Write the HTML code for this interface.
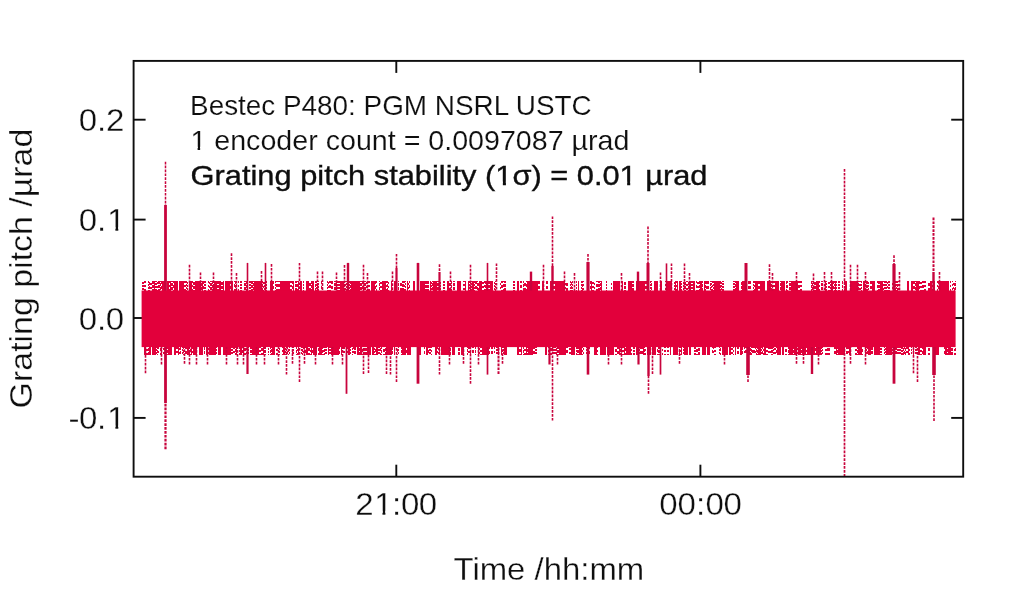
<!DOCTYPE html>
<html lang="en">
<head>
<meta charset="utf-8">
<title>Grating pitch stability</title>
<style>
html,body{margin:0;padding:0;background:#fff;}
body{width:1024px;height:589px;overflow:hidden;position:relative;}
svg{position:absolute;left:0;top:0;display:block;}
text{font-family:"Liberation Sans",sans-serif;fill:#0e0e0e;}
.tk{font-size:31.2px;stroke:#fff;stroke-width:0.3px;}
.ttl{font-size:31.6px;stroke:#fff;stroke-width:0.3px;}
.an{font-size:27.2px;stroke:#fff;stroke-width:0.15px;}
.anb{font-size:27.2px;stroke:#0e0e0e;stroke-width:0.35px;}
</style>
</head>
<body>
<svg width="1024" height="589" viewBox="0 0 1024 589">
<rect x="0" y="0" width="1024" height="589" fill="#ffffff"/>
<g stroke="#0e0e0e" stroke-width="1.9" fill="none">
<line x1="133.6" y1="119.7" x2="145.6" y2="119.7"/>
<line x1="951.2" y1="119.7" x2="963.2" y2="119.7"/>
<line x1="133.6" y1="219.6" x2="145.6" y2="219.6"/>
<line x1="951.2" y1="219.6" x2="963.2" y2="219.6"/>
<line x1="133.6" y1="318.0" x2="145.6" y2="318.0"/>
<line x1="951.2" y1="318.0" x2="963.2" y2="318.0"/>
<line x1="133.6" y1="417.9" x2="145.6" y2="417.9"/>
<line x1="951.2" y1="417.9" x2="963.2" y2="417.9"/>
<line x1="396.3" y1="60.9" x2="396.3" y2="72.9"/>
<line x1="396.3" y1="464.7" x2="396.3" y2="476.7"/>
<line x1="700.4" y1="60.9" x2="700.4" y2="72.9"/>
<line x1="700.4" y1="464.7" x2="700.4" y2="476.7"/>
</g>
<g stroke="#e2003b" fill="none">
<g shape-rendering="crispEdges">
<line x1="154.5" y1="281.0" x2="154.5" y2="291.0" stroke-width="1.0"/>
<line x1="163.5" y1="281.0" x2="163.5" y2="291.0" stroke-width="3.0"/>
<line x1="168.0" y1="281.0" x2="168.0" y2="291.0" stroke-width="2.0"/>
<line x1="170.5" y1="281.0" x2="170.5" y2="291.0" stroke-width="1.0"/>
<line x1="175.0" y1="281.0" x2="175.0" y2="291.0" stroke-width="2.0"/>
<line x1="177.0" y1="281.0" x2="177.0" y2="291.0" stroke-width="2.0"/>
<line x1="181.0" y1="281.0" x2="181.0" y2="291.0" stroke-width="4.0"/>
<line x1="183.5" y1="281.0" x2="183.5" y2="291.0" stroke-width="1.0"/>
<line x1="190.5" y1="281.0" x2="190.5" y2="291.0" stroke-width="3.0"/>
<line x1="195.5" y1="281.0" x2="195.5" y2="291.0" stroke-width="1.0"/>
<line x1="197.0" y1="281.0" x2="197.0" y2="291.0" stroke-width="2.0"/>
<line x1="199.5" y1="281.0" x2="199.5" y2="291.0" stroke-width="3.0"/>
<line x1="202.5" y1="281.0" x2="202.5" y2="291.0" stroke-width="1.0"/>
<line x1="215.5" y1="281.0" x2="215.5" y2="291.0" stroke-width="3.0"/>
<line x1="220.0" y1="281.0" x2="220.0" y2="291.0" stroke-width="2.0"/>
<line x1="223.5" y1="281.0" x2="223.5" y2="291.0" stroke-width="1.0"/>
<line x1="226.0" y1="281.0" x2="226.0" y2="291.0" stroke-width="2.0"/>
<line x1="227.5" y1="281.0" x2="227.5" y2="291.0" stroke-width="1.0"/>
<line x1="229.0" y1="281.0" x2="229.0" y2="291.0" stroke-width="2.0"/>
<line x1="232.0" y1="281.0" x2="232.0" y2="291.0" stroke-width="2.0"/>
<line x1="256.0" y1="281.0" x2="256.0" y2="291.0" stroke-width="4.0"/>
<line x1="259.5" y1="281.0" x2="259.5" y2="291.0" stroke-width="3.0"/>
<line x1="271.0" y1="281.0" x2="271.0" y2="291.0" stroke-width="2.0"/>
<line x1="272.5" y1="281.0" x2="272.5" y2="291.0" stroke-width="1.0"/>
<line x1="280.5" y1="281.0" x2="280.5" y2="291.0" stroke-width="1.0"/>
<line x1="282.5" y1="281.0" x2="282.5" y2="291.0" stroke-width="3.0"/>
<line x1="286.0" y1="281.0" x2="286.0" y2="291.0" stroke-width="4.0"/>
<line x1="289.0" y1="281.0" x2="289.0" y2="291.0" stroke-width="2.0"/>
<line x1="293.5" y1="281.0" x2="293.5" y2="291.0" stroke-width="1.0"/>
<line x1="298.5" y1="281.0" x2="298.5" y2="291.0" stroke-width="1.0"/>
<line x1="301.0" y1="281.0" x2="301.0" y2="291.0" stroke-width="2.0"/>
<line x1="307.0" y1="281.0" x2="307.0" y2="291.0" stroke-width="2.0"/>
<line x1="308.5" y1="281.0" x2="308.5" y2="291.0" stroke-width="1.0"/>
<line x1="313.0" y1="281.0" x2="313.0" y2="291.0" stroke-width="2.0"/>
<line x1="340.5" y1="281.0" x2="340.5" y2="291.0" stroke-width="1.0"/>
<line x1="342.5" y1="281.0" x2="342.5" y2="291.0" stroke-width="3.0"/>
<line x1="351.5" y1="281.0" x2="351.5" y2="291.0" stroke-width="1.0"/>
<line x1="354.0" y1="281.0" x2="354.0" y2="291.0" stroke-width="4.0"/>
<line x1="358.0" y1="281.0" x2="358.0" y2="291.0" stroke-width="4.0"/>
<line x1="373.0" y1="281.0" x2="373.0" y2="291.0" stroke-width="4.0"/>
<line x1="384.0" y1="281.0" x2="384.0" y2="291.0" stroke-width="4.0"/>
<line x1="391.5" y1="281.0" x2="391.5" y2="291.0" stroke-width="1.0"/>
<line x1="394.5" y1="281.0" x2="394.5" y2="291.0" stroke-width="1.0"/>
<line x1="395.5" y1="281.0" x2="395.5" y2="291.0" stroke-width="1.0"/>
<line x1="407.5" y1="281.0" x2="407.5" y2="291.0" stroke-width="1.0"/>
<line x1="414.0" y1="281.0" x2="414.0" y2="291.0" stroke-width="2.0"/>
<line x1="422.0" y1="281.0" x2="422.0" y2="291.0" stroke-width="4.0"/>
<line x1="424.5" y1="281.0" x2="424.5" y2="291.0" stroke-width="1.0"/>
<line x1="430.5" y1="281.0" x2="430.5" y2="291.0" stroke-width="1.0"/>
<line x1="434.0" y1="281.0" x2="434.0" y2="291.0" stroke-width="2.0"/>
<line x1="436.0" y1="281.0" x2="436.0" y2="291.0" stroke-width="2.0"/>
<line x1="448.0" y1="281.0" x2="448.0" y2="291.0" stroke-width="2.0"/>
<line x1="459.0" y1="281.0" x2="459.0" y2="291.0" stroke-width="4.0"/>
<line x1="465.5" y1="281.0" x2="465.5" y2="291.0" stroke-width="1.0"/>
<line x1="468.5" y1="281.0" x2="468.5" y2="291.0" stroke-width="1.0"/>
<line x1="473.0" y1="281.0" x2="473.0" y2="291.0" stroke-width="2.0"/>
<line x1="480.5" y1="281.0" x2="480.5" y2="291.0" stroke-width="3.0"/>
<line x1="487.0" y1="281.0" x2="487.0" y2="291.0" stroke-width="2.0"/>
<line x1="491.0" y1="281.0" x2="491.0" y2="291.0" stroke-width="2.0"/>
<line x1="492.5" y1="281.0" x2="492.5" y2="291.0" stroke-width="1.0"/>
<line x1="517.5" y1="281.0" x2="517.5" y2="291.0" stroke-width="1.0"/>
<line x1="518.5" y1="281.0" x2="518.5" y2="291.0" stroke-width="1.0"/>
<line x1="529.0" y1="281.0" x2="529.0" y2="291.0" stroke-width="4.0"/>
<line x1="533.0" y1="281.0" x2="533.0" y2="291.0" stroke-width="2.0"/>
<line x1="536.0" y1="281.0" x2="536.0" y2="291.0" stroke-width="4.0"/>
<line x1="543.0" y1="281.0" x2="543.0" y2="291.0" stroke-width="2.0"/>
<line x1="551.5" y1="281.0" x2="551.5" y2="291.0" stroke-width="3.0"/>
<line x1="557.0" y1="281.0" x2="557.0" y2="291.0" stroke-width="4.0"/>
<line x1="560.0" y1="281.0" x2="560.0" y2="291.0" stroke-width="2.0"/>
<line x1="563.0" y1="281.0" x2="563.0" y2="291.0" stroke-width="4.0"/>
<line x1="578.5" y1="281.0" x2="578.5" y2="291.0" stroke-width="1.0"/>
<line x1="588.0" y1="281.0" x2="588.0" y2="291.0" stroke-width="2.0"/>
<line x1="591.5" y1="281.0" x2="591.5" y2="291.0" stroke-width="1.0"/>
<line x1="601.5" y1="281.0" x2="601.5" y2="291.0" stroke-width="1.0"/>
<line x1="614.5" y1="281.0" x2="614.5" y2="291.0" stroke-width="3.0"/>
<line x1="618.0" y1="281.0" x2="618.0" y2="291.0" stroke-width="4.0"/>
<line x1="622.5" y1="281.0" x2="622.5" y2="291.0" stroke-width="1.0"/>
<line x1="630.0" y1="281.0" x2="630.0" y2="291.0" stroke-width="4.0"/>
<line x1="638.0" y1="281.0" x2="638.0" y2="291.0" stroke-width="4.0"/>
<line x1="641.0" y1="281.0" x2="641.0" y2="291.0" stroke-width="2.0"/>
<line x1="643.5" y1="281.0" x2="643.5" y2="291.0" stroke-width="3.0"/>
<line x1="655.5" y1="281.0" x2="655.5" y2="291.0" stroke-width="3.0"/>
<line x1="657.5" y1="281.0" x2="657.5" y2="291.0" stroke-width="1.0"/>
<line x1="661.0" y1="281.0" x2="661.0" y2="291.0" stroke-width="2.0"/>
<line x1="668.0" y1="281.0" x2="668.0" y2="291.0" stroke-width="4.0"/>
<line x1="671.0" y1="281.0" x2="671.0" y2="291.0" stroke-width="2.0"/>
<line x1="675.5" y1="281.0" x2="675.5" y2="291.0" stroke-width="1.0"/>
<line x1="677.5" y1="281.0" x2="677.5" y2="291.0" stroke-width="1.0"/>
<line x1="679.5" y1="281.0" x2="679.5" y2="291.0" stroke-width="1.0"/>
<line x1="680.5" y1="281.0" x2="680.5" y2="291.0" stroke-width="1.0"/>
<line x1="690.5" y1="281.0" x2="690.5" y2="291.0" stroke-width="1.0"/>
<line x1="694.0" y1="281.0" x2="694.0" y2="291.0" stroke-width="2.0"/>
<line x1="701.0" y1="281.0" x2="701.0" y2="291.0" stroke-width="2.0"/>
<line x1="704.5" y1="281.0" x2="704.5" y2="291.0" stroke-width="1.0"/>
<line x1="715.0" y1="281.0" x2="715.0" y2="291.0" stroke-width="2.0"/>
<line x1="717.5" y1="281.0" x2="717.5" y2="291.0" stroke-width="3.0"/>
<line x1="719.5" y1="281.0" x2="719.5" y2="291.0" stroke-width="1.0"/>
<line x1="737.5" y1="281.0" x2="737.5" y2="291.0" stroke-width="3.0"/>
<line x1="743.0" y1="281.0" x2="743.0" y2="291.0" stroke-width="2.0"/>
<line x1="745.0" y1="281.0" x2="745.0" y2="291.0" stroke-width="2.0"/>
<line x1="756.5" y1="281.0" x2="756.5" y2="291.0" stroke-width="3.0"/>
<line x1="761.0" y1="281.0" x2="761.0" y2="291.0" stroke-width="2.0"/>
<line x1="762.5" y1="281.0" x2="762.5" y2="291.0" stroke-width="1.0"/>
<line x1="764.0" y1="281.0" x2="764.0" y2="291.0" stroke-width="2.0"/>
<line x1="769.0" y1="281.0" x2="769.0" y2="291.0" stroke-width="4.0"/>
<line x1="777.0" y1="281.0" x2="777.0" y2="291.0" stroke-width="4.0"/>
<line x1="783.0" y1="281.0" x2="783.0" y2="291.0" stroke-width="4.0"/>
<line x1="792.0" y1="281.0" x2="792.0" y2="291.0" stroke-width="2.0"/>
<line x1="795.0" y1="281.0" x2="795.0" y2="291.0" stroke-width="4.0"/>
<line x1="797.5" y1="281.0" x2="797.5" y2="291.0" stroke-width="1.0"/>
<line x1="816.5" y1="281.0" x2="816.5" y2="291.0" stroke-width="1.0"/>
<line x1="818.0" y1="281.0" x2="818.0" y2="291.0" stroke-width="2.0"/>
<line x1="825.5" y1="281.0" x2="825.5" y2="291.0" stroke-width="1.0"/>
<line x1="832.0" y1="281.0" x2="832.0" y2="291.0" stroke-width="2.0"/>
<line x1="835.5" y1="281.0" x2="835.5" y2="291.0" stroke-width="1.0"/>
<line x1="846.0" y1="281.0" x2="846.0" y2="291.0" stroke-width="2.0"/>
<line x1="851.5" y1="281.0" x2="851.5" y2="291.0" stroke-width="3.0"/>
<line x1="854.0" y1="281.0" x2="854.0" y2="291.0" stroke-width="2.0"/>
<line x1="856.0" y1="281.0" x2="856.0" y2="291.0" stroke-width="2.0"/>
<line x1="864.0" y1="281.0" x2="864.0" y2="291.0" stroke-width="2.0"/>
<line x1="873.5" y1="281.0" x2="873.5" y2="291.0" stroke-width="3.0"/>
<line x1="881.5" y1="281.0" x2="881.5" y2="291.0" stroke-width="3.0"/>
<line x1="908.0" y1="281.0" x2="908.0" y2="291.0" stroke-width="2.0"/>
<line x1="912.0" y1="281.0" x2="912.0" y2="291.0" stroke-width="2.0"/>
<line x1="917.5" y1="281.0" x2="917.5" y2="291.0" stroke-width="3.0"/>
<line x1="931.0" y1="281.0" x2="931.0" y2="291.0" stroke-width="2.0"/>
<line x1="934.5" y1="281.0" x2="934.5" y2="291.0" stroke-width="1.0"/>
<line x1="941.0" y1="281.0" x2="941.0" y2="291.0" stroke-width="4.0"/>
<line x1="944.0" y1="281.0" x2="944.0" y2="291.0" stroke-width="2.0"/>
<line x1="946.0" y1="281.0" x2="946.0" y2="291.0" stroke-width="2.0"/>
<line x1="948.0" y1="281.0" x2="948.0" y2="291.0" stroke-width="2.0"/>
<line x1="145.0" y1="346.0" x2="145.0" y2="355.4" stroke-width="2.0"/>
<line x1="150.0" y1="346.0" x2="150.0" y2="355.4" stroke-width="2.0"/>
<line x1="154.0" y1="346.0" x2="154.0" y2="355.4" stroke-width="4.0"/>
<line x1="165.5" y1="346.0" x2="165.5" y2="355.4" stroke-width="1.0"/>
<line x1="169.0" y1="346.0" x2="169.0" y2="355.4" stroke-width="2.0"/>
<line x1="171.0" y1="346.0" x2="171.0" y2="355.4" stroke-width="2.0"/>
<line x1="175.0" y1="346.0" x2="175.0" y2="355.4" stroke-width="2.0"/>
<line x1="178.5" y1="346.0" x2="178.5" y2="355.4" stroke-width="1.0"/>
<line x1="188.0" y1="346.0" x2="188.0" y2="355.4" stroke-width="2.0"/>
<line x1="191.5" y1="346.0" x2="191.5" y2="355.4" stroke-width="1.0"/>
<line x1="194.0" y1="346.0" x2="194.0" y2="355.4" stroke-width="2.0"/>
<line x1="195.5" y1="346.0" x2="195.5" y2="355.4" stroke-width="1.0"/>
<line x1="201.0" y1="346.0" x2="201.0" y2="355.4" stroke-width="4.0"/>
<line x1="206.5" y1="346.0" x2="206.5" y2="355.4" stroke-width="1.0"/>
<line x1="211.0" y1="346.0" x2="211.0" y2="355.4" stroke-width="4.0"/>
<line x1="214.5" y1="346.0" x2="214.5" y2="355.4" stroke-width="3.0"/>
<line x1="219.0" y1="346.0" x2="219.0" y2="355.4" stroke-width="2.0"/>
<line x1="220.5" y1="346.0" x2="220.5" y2="355.4" stroke-width="1.0"/>
<line x1="225.0" y1="346.0" x2="225.0" y2="355.4" stroke-width="4.0"/>
<line x1="229.0" y1="346.0" x2="229.0" y2="355.4" stroke-width="4.0"/>
<line x1="236.5" y1="346.0" x2="236.5" y2="355.4" stroke-width="1.0"/>
<line x1="241.0" y1="346.0" x2="241.0" y2="355.4" stroke-width="2.0"/>
<line x1="243.5" y1="346.0" x2="243.5" y2="355.4" stroke-width="1.0"/>
<line x1="252.5" y1="346.0" x2="252.5" y2="355.4" stroke-width="1.0"/>
<line x1="254.5" y1="346.0" x2="254.5" y2="355.4" stroke-width="3.0"/>
<line x1="258.0" y1="346.0" x2="258.0" y2="355.4" stroke-width="2.0"/>
<line x1="263.5" y1="346.0" x2="263.5" y2="355.4" stroke-width="1.0"/>
<line x1="272.5" y1="346.0" x2="272.5" y2="355.4" stroke-width="1.0"/>
<line x1="274.0" y1="346.0" x2="274.0" y2="355.4" stroke-width="2.0"/>
<line x1="284.0" y1="346.0" x2="284.0" y2="355.4" stroke-width="2.0"/>
<line x1="298.5" y1="346.0" x2="298.5" y2="355.4" stroke-width="1.0"/>
<line x1="307.0" y1="346.0" x2="307.0" y2="355.4" stroke-width="2.0"/>
<line x1="311.5" y1="346.0" x2="311.5" y2="355.4" stroke-width="1.0"/>
<line x1="314.5" y1="346.0" x2="314.5" y2="355.4" stroke-width="3.0"/>
<line x1="316.5" y1="346.0" x2="316.5" y2="355.4" stroke-width="1.0"/>
<line x1="320.5" y1="346.0" x2="320.5" y2="355.4" stroke-width="3.0"/>
<line x1="328.5" y1="346.0" x2="328.5" y2="355.4" stroke-width="1.0"/>
<line x1="332.0" y1="346.0" x2="332.0" y2="355.4" stroke-width="2.0"/>
<line x1="334.0" y1="346.0" x2="334.0" y2="355.4" stroke-width="2.0"/>
<line x1="337.0" y1="346.0" x2="337.0" y2="355.4" stroke-width="4.0"/>
<line x1="341.5" y1="346.0" x2="341.5" y2="355.4" stroke-width="1.0"/>
<line x1="349.0" y1="346.0" x2="349.0" y2="355.4" stroke-width="2.0"/>
<line x1="358.0" y1="346.0" x2="358.0" y2="355.4" stroke-width="2.0"/>
<line x1="361.0" y1="346.0" x2="361.0" y2="355.4" stroke-width="2.0"/>
<line x1="369.0" y1="346.0" x2="369.0" y2="355.4" stroke-width="4.0"/>
<line x1="373.0" y1="346.0" x2="373.0" y2="355.4" stroke-width="2.0"/>
<line x1="377.0" y1="346.0" x2="377.0" y2="355.4" stroke-width="2.0"/>
<line x1="386.5" y1="346.0" x2="386.5" y2="355.4" stroke-width="1.0"/>
<line x1="388.5" y1="346.0" x2="388.5" y2="355.4" stroke-width="3.0"/>
<line x1="391.0" y1="346.0" x2="391.0" y2="355.4" stroke-width="2.0"/>
<line x1="394.5" y1="346.0" x2="394.5" y2="355.4" stroke-width="1.0"/>
<line x1="402.5" y1="346.0" x2="402.5" y2="355.4" stroke-width="1.0"/>
<line x1="404.0" y1="346.0" x2="404.0" y2="355.4" stroke-width="2.0"/>
<line x1="405.5" y1="346.0" x2="405.5" y2="355.4" stroke-width="1.0"/>
<line x1="409.0" y1="346.0" x2="409.0" y2="355.4" stroke-width="4.0"/>
<line x1="420.0" y1="346.0" x2="420.0" y2="355.4" stroke-width="2.0"/>
<line x1="427.0" y1="346.0" x2="427.0" y2="355.4" stroke-width="2.0"/>
<line x1="435.5" y1="346.0" x2="435.5" y2="355.4" stroke-width="1.0"/>
<line x1="436.5" y1="346.0" x2="436.5" y2="355.4" stroke-width="1.0"/>
<line x1="439.5" y1="346.0" x2="439.5" y2="355.4" stroke-width="1.0"/>
<line x1="441.5" y1="346.0" x2="441.5" y2="355.4" stroke-width="1.0"/>
<line x1="443.0" y1="346.0" x2="443.0" y2="355.4" stroke-width="2.0"/>
<line x1="445.5" y1="346.0" x2="445.5" y2="355.4" stroke-width="3.0"/>
<line x1="448.0" y1="346.0" x2="448.0" y2="355.4" stroke-width="2.0"/>
<line x1="452.5" y1="346.0" x2="452.5" y2="355.4" stroke-width="1.0"/>
<line x1="453.5" y1="346.0" x2="453.5" y2="355.4" stroke-width="1.0"/>
<line x1="454.5" y1="346.0" x2="454.5" y2="355.4" stroke-width="1.0"/>
<line x1="462.5" y1="346.0" x2="462.5" y2="355.4" stroke-width="3.0"/>
<line x1="484.0" y1="346.0" x2="484.0" y2="355.4" stroke-width="4.0"/>
<line x1="486.5" y1="346.0" x2="486.5" y2="355.4" stroke-width="1.0"/>
<line x1="488.5" y1="346.0" x2="488.5" y2="355.4" stroke-width="1.0"/>
<line x1="498.5" y1="346.0" x2="498.5" y2="355.4" stroke-width="1.0"/>
<line x1="501.5" y1="346.0" x2="501.5" y2="355.4" stroke-width="1.0"/>
<line x1="505.5" y1="346.0" x2="505.5" y2="355.4" stroke-width="3.0"/>
<line x1="518.0" y1="346.0" x2="518.0" y2="355.4" stroke-width="2.0"/>
<line x1="521.5" y1="346.0" x2="521.5" y2="355.4" stroke-width="1.0"/>
<line x1="526.5" y1="346.0" x2="526.5" y2="355.4" stroke-width="1.0"/>
<line x1="529.5" y1="346.0" x2="529.5" y2="355.4" stroke-width="3.0"/>
<line x1="532.0" y1="346.0" x2="532.0" y2="355.4" stroke-width="2.0"/>
<line x1="546.0" y1="346.0" x2="546.0" y2="355.4" stroke-width="2.0"/>
<line x1="560.5" y1="346.0" x2="560.5" y2="355.4" stroke-width="3.0"/>
<line x1="563.0" y1="346.0" x2="563.0" y2="355.4" stroke-width="2.0"/>
<line x1="565.0" y1="346.0" x2="565.0" y2="355.4" stroke-width="2.0"/>
<line x1="573.0" y1="346.0" x2="573.0" y2="355.4" stroke-width="4.0"/>
<line x1="580.5" y1="346.0" x2="580.5" y2="355.4" stroke-width="3.0"/>
<line x1="595.5" y1="346.0" x2="595.5" y2="355.4" stroke-width="3.0"/>
<line x1="601.0" y1="346.0" x2="601.0" y2="355.4" stroke-width="2.0"/>
<line x1="604.0" y1="346.0" x2="604.0" y2="355.4" stroke-width="4.0"/>
<line x1="609.0" y1="346.0" x2="609.0" y2="355.4" stroke-width="4.0"/>
<line x1="612.5" y1="346.0" x2="612.5" y2="355.4" stroke-width="3.0"/>
<line x1="619.5" y1="346.0" x2="619.5" y2="355.4" stroke-width="1.0"/>
<line x1="624.5" y1="346.0" x2="624.5" y2="355.4" stroke-width="1.0"/>
<line x1="626.5" y1="346.0" x2="626.5" y2="355.4" stroke-width="1.0"/>
<line x1="628.0" y1="346.0" x2="628.0" y2="355.4" stroke-width="2.0"/>
<line x1="630.0" y1="346.0" x2="630.0" y2="355.4" stroke-width="2.0"/>
<line x1="637.5" y1="346.0" x2="637.5" y2="355.4" stroke-width="3.0"/>
<line x1="643.5" y1="346.0" x2="643.5" y2="355.4" stroke-width="1.0"/>
<line x1="649.0" y1="346.0" x2="649.0" y2="355.4" stroke-width="4.0"/>
<line x1="654.0" y1="346.0" x2="654.0" y2="355.4" stroke-width="4.0"/>
<line x1="660.5" y1="346.0" x2="660.5" y2="355.4" stroke-width="1.0"/>
<line x1="670.5" y1="346.0" x2="670.5" y2="355.4" stroke-width="1.0"/>
<line x1="674.0" y1="346.0" x2="674.0" y2="355.4" stroke-width="2.0"/>
<line x1="676.5" y1="346.0" x2="676.5" y2="355.4" stroke-width="3.0"/>
<line x1="681.5" y1="346.0" x2="681.5" y2="355.4" stroke-width="1.0"/>
<line x1="686.0" y1="346.0" x2="686.0" y2="355.4" stroke-width="4.0"/>
<line x1="690.0" y1="346.0" x2="690.0" y2="355.4" stroke-width="2.0"/>
<line x1="704.0" y1="346.0" x2="704.0" y2="355.4" stroke-width="4.0"/>
<line x1="708.5" y1="346.0" x2="708.5" y2="355.4" stroke-width="3.0"/>
<line x1="724.0" y1="346.0" x2="724.0" y2="355.4" stroke-width="4.0"/>
<line x1="727.0" y1="346.0" x2="727.0" y2="355.4" stroke-width="2.0"/>
<line x1="730.0" y1="346.0" x2="730.0" y2="355.4" stroke-width="2.0"/>
<line x1="735.5" y1="346.0" x2="735.5" y2="355.4" stroke-width="1.0"/>
<line x1="741.0" y1="346.0" x2="741.0" y2="355.4" stroke-width="2.0"/>
<line x1="747.5" y1="346.0" x2="747.5" y2="355.4" stroke-width="1.0"/>
<line x1="749.0" y1="346.0" x2="749.0" y2="355.4" stroke-width="2.0"/>
<line x1="759.5" y1="346.0" x2="759.5" y2="355.4" stroke-width="3.0"/>
<line x1="765.0" y1="346.0" x2="765.0" y2="355.4" stroke-width="2.0"/>
<line x1="779.0" y1="346.0" x2="779.0" y2="355.4" stroke-width="4.0"/>
<line x1="783.0" y1="346.0" x2="783.0" y2="355.4" stroke-width="2.0"/>
<line x1="791.0" y1="346.0" x2="791.0" y2="355.4" stroke-width="4.0"/>
<line x1="795.0" y1="346.0" x2="795.0" y2="355.4" stroke-width="2.0"/>
<line x1="798.5" y1="346.0" x2="798.5" y2="355.4" stroke-width="1.0"/>
<line x1="800.0" y1="346.0" x2="800.0" y2="355.4" stroke-width="2.0"/>
<line x1="804.0" y1="346.0" x2="804.0" y2="355.4" stroke-width="4.0"/>
<line x1="809.0" y1="346.0" x2="809.0" y2="355.4" stroke-width="4.0"/>
<line x1="813.0" y1="346.0" x2="813.0" y2="355.4" stroke-width="4.0"/>
<line x1="816.5" y1="346.0" x2="816.5" y2="355.4" stroke-width="1.0"/>
<line x1="819.0" y1="346.0" x2="819.0" y2="355.4" stroke-width="4.0"/>
<line x1="836.5" y1="346.0" x2="836.5" y2="355.4" stroke-width="1.0"/>
<line x1="840.0" y1="346.0" x2="840.0" y2="355.4" stroke-width="4.0"/>
<line x1="843.5" y1="346.0" x2="843.5" y2="355.4" stroke-width="3.0"/>
<line x1="849.5" y1="346.0" x2="849.5" y2="355.4" stroke-width="1.0"/>
<line x1="850.5" y1="346.0" x2="850.5" y2="355.4" stroke-width="1.0"/>
<line x1="858.5" y1="346.0" x2="858.5" y2="355.4" stroke-width="1.0"/>
<line x1="860.5" y1="346.0" x2="860.5" y2="355.4" stroke-width="3.0"/>
<line x1="869.5" y1="346.0" x2="869.5" y2="355.4" stroke-width="3.0"/>
<line x1="874.5" y1="346.0" x2="874.5" y2="355.4" stroke-width="1.0"/>
<line x1="877.0" y1="346.0" x2="877.0" y2="355.4" stroke-width="4.0"/>
<line x1="879.5" y1="346.0" x2="879.5" y2="355.4" stroke-width="1.0"/>
<line x1="888.0" y1="346.0" x2="888.0" y2="355.4" stroke-width="4.0"/>
<line x1="891.0" y1="346.0" x2="891.0" y2="355.4" stroke-width="2.0"/>
<line x1="908.5" y1="346.0" x2="908.5" y2="355.4" stroke-width="1.0"/>
<line x1="913.5" y1="346.0" x2="913.5" y2="355.4" stroke-width="1.0"/>
<line x1="919.0" y1="346.0" x2="919.0" y2="355.4" stroke-width="2.0"/>
<line x1="923.5" y1="346.0" x2="923.5" y2="355.4" stroke-width="1.0"/>
<line x1="925.0" y1="346.0" x2="925.0" y2="355.4" stroke-width="2.0"/>
<line x1="937.0" y1="346.0" x2="937.0" y2="355.4" stroke-width="4.0"/>
<line x1="946.0" y1="346.0" x2="946.0" y2="355.4" stroke-width="2.0"/>
<line x1="949.5" y1="346.0" x2="949.5" y2="355.4" stroke-width="3.0"/>
<line x1="143.0" y1="281.0" x2="143.0" y2="291.0" stroke-width="2.0" stroke-dasharray="2 1" stroke-dashoffset="2.0"/>
<line x1="145.0" y1="281.0" x2="145.0" y2="291.0" stroke-width="2.0" stroke-dasharray="2 2" stroke-dashoffset="0.0"/>
<line x1="148.5" y1="281.0" x2="148.5" y2="291.0" stroke-width="1.0" stroke-dasharray="2 1" stroke-dashoffset="0.0"/>
<line x1="149.5" y1="281.0" x2="149.5" y2="291.0" stroke-width="1.0" stroke-dasharray="3 1" stroke-dashoffset="3.0"/>
<line x1="151.0" y1="281.0" x2="151.0" y2="291.0" stroke-width="2.0" stroke-dasharray="2 2" stroke-dashoffset="2.0"/>
<line x1="153.0" y1="281.0" x2="153.0" y2="291.0" stroke-width="2.0" stroke-dasharray="3 1" stroke-dashoffset="0.0"/>
<line x1="156.0" y1="281.0" x2="156.0" y2="291.0" stroke-width="2.0" stroke-dasharray="2 1" stroke-dashoffset="1.0"/>
<line x1="157.5" y1="281.0" x2="157.5" y2="291.0" stroke-width="1.0" stroke-dasharray="2 2" stroke-dashoffset="3.0"/>
<line x1="159.0" y1="281.0" x2="159.0" y2="291.0" stroke-width="2.0" stroke-dasharray="3 1" stroke-dashoffset="0.0"/>
<line x1="160.5" y1="281.0" x2="160.5" y2="291.0" stroke-width="1.0" stroke-dasharray="3 1" stroke-dashoffset="2.0"/>
<line x1="161.5" y1="281.0" x2="161.5" y2="291.0" stroke-width="1.0" stroke-dasharray="3 2" stroke-dashoffset="0.0"/>
<line x1="169.5" y1="281.0" x2="169.5" y2="291.0" stroke-width="1.0" stroke-dasharray="2 2" stroke-dashoffset="0.0"/>
<line x1="172.0" y1="281.0" x2="172.0" y2="291.0" stroke-width="2.0" stroke-dasharray="3 1" stroke-dashoffset="2.0"/>
<line x1="173.5" y1="281.0" x2="173.5" y2="291.0" stroke-width="1.0" stroke-dasharray="3 2" stroke-dashoffset="1.0"/>
<line x1="185.0" y1="281.0" x2="185.0" y2="291.0" stroke-width="2.0" stroke-dasharray="2 2" stroke-dashoffset="0.0"/>
<line x1="186.5" y1="281.0" x2="186.5" y2="291.0" stroke-width="1.0" stroke-dasharray="2 1" stroke-dashoffset="0.0"/>
<line x1="187.5" y1="281.0" x2="187.5" y2="291.0" stroke-width="1.0" stroke-dasharray="2 1" stroke-dashoffset="2.0"/>
<line x1="192.5" y1="281.0" x2="192.5" y2="291.0" stroke-width="1.0" stroke-dasharray="2 2" stroke-dashoffset="0.0"/>
<line x1="194.0" y1="281.0" x2="194.0" y2="291.0" stroke-width="2.0" stroke-dasharray="3 1" stroke-dashoffset="3.0"/>
<line x1="201.5" y1="281.0" x2="201.5" y2="291.0" stroke-width="1.0" stroke-dasharray="3 1" stroke-dashoffset="2.0"/>
<line x1="203.5" y1="281.0" x2="203.5" y2="291.0" stroke-width="1.0" stroke-dasharray="3 2" stroke-dashoffset="0.0"/>
<line x1="205.0" y1="281.0" x2="205.0" y2="291.0" stroke-width="2.0" stroke-dasharray="2 1" stroke-dashoffset="0.0"/>
<line x1="208.5" y1="281.0" x2="208.5" y2="291.0" stroke-width="1.0" stroke-dasharray="2 2" stroke-dashoffset="0.0"/>
<line x1="209.5" y1="281.0" x2="209.5" y2="291.0" stroke-width="1.0" stroke-dasharray="2 2" stroke-dashoffset="3.0"/>
<line x1="211.0" y1="281.0" x2="211.0" y2="291.0" stroke-width="2.0" stroke-dasharray="3 1" stroke-dashoffset="2.0"/>
<line x1="212.5" y1="281.0" x2="212.5" y2="291.0" stroke-width="1.0" stroke-dasharray="3 1" stroke-dashoffset="0.0"/>
<line x1="213.5" y1="281.0" x2="213.5" y2="291.0" stroke-width="1.0" stroke-dasharray="2 1" stroke-dashoffset="0.0"/>
<line x1="218.0" y1="281.0" x2="218.0" y2="291.0" stroke-width="2.0" stroke-dasharray="3 1" stroke-dashoffset="0.0"/>
<line x1="222.0" y1="281.0" x2="222.0" y2="291.0" stroke-width="2.0" stroke-dasharray="3 1" stroke-dashoffset="3.0"/>
<line x1="230.5" y1="281.0" x2="230.5" y2="291.0" stroke-width="1.0" stroke-dasharray="3 2" stroke-dashoffset="0.0"/>
<line x1="234.5" y1="281.0" x2="234.5" y2="291.0" stroke-width="1.0" stroke-dasharray="3 2" stroke-dashoffset="2.0"/>
<line x1="235.5" y1="281.0" x2="235.5" y2="291.0" stroke-width="1.0" stroke-dasharray="3 1" stroke-dashoffset="0.0"/>
<line x1="236.5" y1="281.0" x2="236.5" y2="291.0" stroke-width="1.0" stroke-dasharray="2 2" stroke-dashoffset="1.0"/>
<line x1="238.5" y1="281.0" x2="238.5" y2="291.0" stroke-width="1.0" stroke-dasharray="2 2" stroke-dashoffset="0.0"/>
<line x1="241.0" y1="281.0" x2="241.0" y2="291.0" stroke-width="2.0" stroke-dasharray="2 1" stroke-dashoffset="0.0"/>
<line x1="245.0" y1="281.0" x2="245.0" y2="291.0" stroke-width="2.0" stroke-dasharray="3 1" stroke-dashoffset="2.0"/>
<line x1="246.5" y1="281.0" x2="246.5" y2="291.0" stroke-width="1.0" stroke-dasharray="3 1" stroke-dashoffset="0.0"/>
<line x1="250.0" y1="281.0" x2="250.0" y2="291.0" stroke-width="2.0" stroke-dasharray="2 1" stroke-dashoffset="3.0"/>
<line x1="252.0" y1="281.0" x2="252.0" y2="291.0" stroke-width="2.0" stroke-dasharray="3 1" stroke-dashoffset="0.0"/>
<line x1="253.5" y1="281.0" x2="253.5" y2="291.0" stroke-width="1.0" stroke-dasharray="3 1" stroke-dashoffset="2.0"/>
<line x1="262.0" y1="281.0" x2="262.0" y2="291.0" stroke-width="2.0" stroke-dasharray="3 1" stroke-dashoffset="1.0"/>
<line x1="263.5" y1="281.0" x2="263.5" y2="291.0" stroke-width="1.0" stroke-dasharray="2 2" stroke-dashoffset="3.0"/>
<line x1="264.5" y1="281.0" x2="264.5" y2="291.0" stroke-width="1.0" stroke-dasharray="2 1" stroke-dashoffset="2.0"/>
<line x1="266.5" y1="281.0" x2="266.5" y2="291.0" stroke-width="1.0" stroke-dasharray="2 1" stroke-dashoffset="0.0"/>
<line x1="273.5" y1="281.0" x2="273.5" y2="291.0" stroke-width="1.0" stroke-dasharray="3 2" stroke-dashoffset="0.0"/>
<line x1="275.5" y1="281.0" x2="275.5" y2="291.0" stroke-width="1.0" stroke-dasharray="2 1" stroke-dashoffset="0.0"/>
<line x1="277.0" y1="281.0" x2="277.0" y2="291.0" stroke-width="2.0" stroke-dasharray="3 2" stroke-dashoffset="2.0"/>
<line x1="279.0" y1="281.0" x2="279.0" y2="291.0" stroke-width="2.0" stroke-dasharray="3 2" stroke-dashoffset="2.0"/>
<line x1="291.0" y1="281.0" x2="291.0" y2="291.0" stroke-width="2.0" stroke-dasharray="2 2" stroke-dashoffset="0.0"/>
<line x1="292.5" y1="281.0" x2="292.5" y2="291.0" stroke-width="1.0" stroke-dasharray="3 2" stroke-dashoffset="0.0"/>
<line x1="296.0" y1="281.0" x2="296.0" y2="291.0" stroke-width="2.0" stroke-dasharray="3 1" stroke-dashoffset="1.0"/>
<line x1="297.5" y1="281.0" x2="297.5" y2="291.0" stroke-width="1.0" stroke-dasharray="3 2" stroke-dashoffset="2.0"/>
<line x1="303.5" y1="281.0" x2="303.5" y2="291.0" stroke-width="1.0" stroke-dasharray="2 1" stroke-dashoffset="0.0"/>
<line x1="310.0" y1="281.0" x2="310.0" y2="291.0" stroke-width="2.0" stroke-dasharray="3 2" stroke-dashoffset="3.0"/>
<line x1="311.5" y1="281.0" x2="311.5" y2="291.0" stroke-width="1.0" stroke-dasharray="3 1" stroke-dashoffset="0.0"/>
<line x1="315.5" y1="281.0" x2="315.5" y2="291.0" stroke-width="1.0" stroke-dasharray="3 1" stroke-dashoffset="1.0"/>
<line x1="316.5" y1="281.0" x2="316.5" y2="291.0" stroke-width="1.0" stroke-dasharray="2 1" stroke-dashoffset="0.0"/>
<line x1="318.0" y1="281.0" x2="318.0" y2="291.0" stroke-width="2.0" stroke-dasharray="2 1" stroke-dashoffset="1.0"/>
<line x1="321.5" y1="281.0" x2="321.5" y2="291.0" stroke-width="1.0" stroke-dasharray="3 2" stroke-dashoffset="0.0"/>
<line x1="322.5" y1="281.0" x2="322.5" y2="291.0" stroke-width="1.0" stroke-dasharray="2 2" stroke-dashoffset="2.0"/>
<line x1="327.5" y1="281.0" x2="327.5" y2="291.0" stroke-width="1.0" stroke-dasharray="2 1" stroke-dashoffset="0.0"/>
<line x1="328.5" y1="281.0" x2="328.5" y2="291.0" stroke-width="1.0" stroke-dasharray="2 2" stroke-dashoffset="3.0"/>
<line x1="330.0" y1="281.0" x2="330.0" y2="291.0" stroke-width="2.0" stroke-dasharray="3 2" stroke-dashoffset="1.0"/>
<line x1="332.0" y1="281.0" x2="332.0" y2="291.0" stroke-width="2.0" stroke-dasharray="3 2" stroke-dashoffset="0.0"/>
<line x1="334.5" y1="281.0" x2="334.5" y2="291.0" stroke-width="1.0" stroke-dasharray="3 1" stroke-dashoffset="2.0"/>
<line x1="336.0" y1="281.0" x2="336.0" y2="291.0" stroke-width="2.0" stroke-dasharray="3 1" stroke-dashoffset="2.0"/>
<line x1="337.5" y1="281.0" x2="337.5" y2="291.0" stroke-width="1.0" stroke-dasharray="2 1" stroke-dashoffset="3.0"/>
<line x1="339.0" y1="281.0" x2="339.0" y2="291.0" stroke-width="2.0" stroke-dasharray="2 1" stroke-dashoffset="0.0"/>
<line x1="345.0" y1="281.0" x2="345.0" y2="291.0" stroke-width="2.0" stroke-dasharray="2 2" stroke-dashoffset="1.0"/>
<line x1="346.5" y1="281.0" x2="346.5" y2="291.0" stroke-width="1.0" stroke-dasharray="2 1" stroke-dashoffset="1.0"/>
<line x1="349.5" y1="281.0" x2="349.5" y2="291.0" stroke-width="1.0" stroke-dasharray="2 1" stroke-dashoffset="0.0"/>
<line x1="350.5" y1="281.0" x2="350.5" y2="291.0" stroke-width="1.0" stroke-dasharray="3 1" stroke-dashoffset="0.0"/>
<line x1="361.0" y1="281.0" x2="361.0" y2="291.0" stroke-width="2.0" stroke-dasharray="3 1" stroke-dashoffset="2.0"/>
<line x1="363.0" y1="281.0" x2="363.0" y2="291.0" stroke-width="2.0" stroke-dasharray="3 2" stroke-dashoffset="0.0"/>
<line x1="365.0" y1="281.0" x2="365.0" y2="291.0" stroke-width="2.0" stroke-dasharray="3 1" stroke-dashoffset="2.0"/>
<line x1="367.0" y1="281.0" x2="367.0" y2="291.0" stroke-width="2.0" stroke-dasharray="2 2" stroke-dashoffset="3.0"/>
<line x1="369.0" y1="281.0" x2="369.0" y2="291.0" stroke-width="2.0" stroke-dasharray="2 2" stroke-dashoffset="0.0"/>
<line x1="375.5" y1="281.0" x2="375.5" y2="291.0" stroke-width="1.0" stroke-dasharray="3 2" stroke-dashoffset="0.0"/>
<line x1="376.5" y1="281.0" x2="376.5" y2="291.0" stroke-width="1.0" stroke-dasharray="2 2" stroke-dashoffset="0.0"/>
<line x1="379.5" y1="281.0" x2="379.5" y2="291.0" stroke-width="1.0" stroke-dasharray="3 1" stroke-dashoffset="2.0"/>
<line x1="381.0" y1="281.0" x2="381.0" y2="291.0" stroke-width="2.0" stroke-dasharray="2 2" stroke-dashoffset="3.0"/>
<line x1="386.5" y1="281.0" x2="386.5" y2="291.0" stroke-width="1.0" stroke-dasharray="2 2" stroke-dashoffset="0.0"/>
<line x1="387.5" y1="281.0" x2="387.5" y2="291.0" stroke-width="1.0" stroke-dasharray="3 1" stroke-dashoffset="1.0"/>
<line x1="388.5" y1="281.0" x2="388.5" y2="291.0" stroke-width="1.0" stroke-dasharray="2 2" stroke-dashoffset="3.0"/>
<line x1="398.5" y1="281.0" x2="398.5" y2="291.0" stroke-width="1.0" stroke-dasharray="3 1" stroke-dashoffset="2.0"/>
<line x1="401.0" y1="281.0" x2="401.0" y2="291.0" stroke-width="2.0" stroke-dasharray="3 2" stroke-dashoffset="3.0"/>
<line x1="403.0" y1="281.0" x2="403.0" y2="291.0" stroke-width="2.0" stroke-dasharray="3 1" stroke-dashoffset="1.0"/>
<line x1="404.5" y1="281.0" x2="404.5" y2="291.0" stroke-width="1.0" stroke-dasharray="2 2" stroke-dashoffset="0.0"/>
<line x1="405.5" y1="281.0" x2="405.5" y2="291.0" stroke-width="1.0" stroke-dasharray="2 1" stroke-dashoffset="1.0"/>
<line x1="408.5" y1="281.0" x2="408.5" y2="291.0" stroke-width="1.0" stroke-dasharray="2 2" stroke-dashoffset="2.0"/>
<line x1="409.5" y1="281.0" x2="409.5" y2="291.0" stroke-width="1.0" stroke-dasharray="3 2" stroke-dashoffset="1.0"/>
<line x1="417.5" y1="281.0" x2="417.5" y2="291.0" stroke-width="1.0" stroke-dasharray="3 2" stroke-dashoffset="0.0"/>
<line x1="418.5" y1="281.0" x2="418.5" y2="291.0" stroke-width="1.0" stroke-dasharray="3 2" stroke-dashoffset="0.0"/>
<line x1="426.0" y1="281.0" x2="426.0" y2="291.0" stroke-width="2.0" stroke-dasharray="3 1" stroke-dashoffset="0.0"/>
<line x1="428.0" y1="281.0" x2="428.0" y2="291.0" stroke-width="2.0" stroke-dasharray="3 1" stroke-dashoffset="0.0"/>
<line x1="431.5" y1="281.0" x2="431.5" y2="291.0" stroke-width="1.0" stroke-dasharray="2 1" stroke-dashoffset="2.0"/>
<line x1="432.5" y1="281.0" x2="432.5" y2="291.0" stroke-width="1.0" stroke-dasharray="3 1" stroke-dashoffset="2.0"/>
<line x1="438.0" y1="281.0" x2="438.0" y2="291.0" stroke-width="2.0" stroke-dasharray="3 1" stroke-dashoffset="2.0"/>
<line x1="439.5" y1="281.0" x2="439.5" y2="291.0" stroke-width="1.0" stroke-dasharray="3 1" stroke-dashoffset="3.0"/>
<line x1="440.5" y1="281.0" x2="440.5" y2="291.0" stroke-width="1.0" stroke-dasharray="2 1" stroke-dashoffset="2.0"/>
<line x1="444.0" y1="281.0" x2="444.0" y2="291.0" stroke-width="2.0" stroke-dasharray="2 1" stroke-dashoffset="0.0"/>
<line x1="449.5" y1="281.0" x2="449.5" y2="291.0" stroke-width="1.0" stroke-dasharray="3 2" stroke-dashoffset="3.0"/>
<line x1="450.5" y1="281.0" x2="450.5" y2="291.0" stroke-width="1.0" stroke-dasharray="3 2" stroke-dashoffset="3.0"/>
<line x1="451.5" y1="281.0" x2="451.5" y2="291.0" stroke-width="1.0" stroke-dasharray="3 1" stroke-dashoffset="0.0"/>
<line x1="454.0" y1="281.0" x2="454.0" y2="291.0" stroke-width="2.0" stroke-dasharray="3 1" stroke-dashoffset="2.0"/>
<line x1="464.0" y1="281.0" x2="464.0" y2="291.0" stroke-width="2.0" stroke-dasharray="2 2" stroke-dashoffset="1.0"/>
<line x1="469.5" y1="281.0" x2="469.5" y2="291.0" stroke-width="1.0" stroke-dasharray="2 1" stroke-dashoffset="0.0"/>
<line x1="470.5" y1="281.0" x2="470.5" y2="291.0" stroke-width="1.0" stroke-dasharray="3 2" stroke-dashoffset="0.0"/>
<line x1="471.5" y1="281.0" x2="471.5" y2="291.0" stroke-width="1.0" stroke-dasharray="2 1" stroke-dashoffset="1.0"/>
<line x1="474.5" y1="281.0" x2="474.5" y2="291.0" stroke-width="1.0" stroke-dasharray="2 1" stroke-dashoffset="3.0"/>
<line x1="476.0" y1="281.0" x2="476.0" y2="291.0" stroke-width="2.0" stroke-dasharray="3 2" stroke-dashoffset="0.0"/>
<line x1="477.5" y1="281.0" x2="477.5" y2="291.0" stroke-width="1.0" stroke-dasharray="3 1" stroke-dashoffset="2.0"/>
<line x1="478.5" y1="281.0" x2="478.5" y2="291.0" stroke-width="1.0" stroke-dasharray="3 2" stroke-dashoffset="3.0"/>
<line x1="483.0" y1="281.0" x2="483.0" y2="291.0" stroke-width="2.0" stroke-dasharray="2 2" stroke-dashoffset="3.0"/>
<line x1="484.5" y1="281.0" x2="484.5" y2="291.0" stroke-width="1.0" stroke-dasharray="2 2" stroke-dashoffset="0.0"/>
<line x1="485.5" y1="281.0" x2="485.5" y2="291.0" stroke-width="1.0" stroke-dasharray="3 1" stroke-dashoffset="0.0"/>
<line x1="489.0" y1="281.0" x2="489.0" y2="291.0" stroke-width="2.0" stroke-dasharray="3 1" stroke-dashoffset="0.0"/>
<line x1="494.5" y1="281.0" x2="494.5" y2="291.0" stroke-width="1.0" stroke-dasharray="2 1" stroke-dashoffset="2.0"/>
<line x1="495.5" y1="281.0" x2="495.5" y2="291.0" stroke-width="1.0" stroke-dasharray="2 1" stroke-dashoffset="1.0"/>
<line x1="500.5" y1="281.0" x2="500.5" y2="291.0" stroke-width="1.0" stroke-dasharray="2 2" stroke-dashoffset="2.0"/>
<line x1="502.0" y1="281.0" x2="502.0" y2="291.0" stroke-width="2.0" stroke-dasharray="3 2" stroke-dashoffset="1.0"/>
<line x1="503.5" y1="281.0" x2="503.5" y2="291.0" stroke-width="1.0" stroke-dasharray="3 2" stroke-dashoffset="2.0"/>
<line x1="505.0" y1="281.0" x2="505.0" y2="291.0" stroke-width="2.0" stroke-dasharray="3 1" stroke-dashoffset="1.0"/>
<line x1="514.0" y1="281.0" x2="514.0" y2="291.0" stroke-width="2.0" stroke-dasharray="2 1" stroke-dashoffset="3.0"/>
<line x1="521.0" y1="281.0" x2="521.0" y2="291.0" stroke-width="2.0" stroke-dasharray="3 2" stroke-dashoffset="1.0"/>
<line x1="523.5" y1="281.0" x2="523.5" y2="291.0" stroke-width="1.0" stroke-dasharray="3 1" stroke-dashoffset="1.0"/>
<line x1="525.0" y1="281.0" x2="525.0" y2="291.0" stroke-width="2.0" stroke-dasharray="3 2" stroke-dashoffset="3.0"/>
<line x1="526.5" y1="281.0" x2="526.5" y2="291.0" stroke-width="1.0" stroke-dasharray="3 2" stroke-dashoffset="2.0"/>
<line x1="539.0" y1="281.0" x2="539.0" y2="291.0" stroke-width="2.0" stroke-dasharray="3 2" stroke-dashoffset="0.0"/>
<line x1="547.0" y1="281.0" x2="547.0" y2="291.0" stroke-width="2.0" stroke-dasharray="3 2" stroke-dashoffset="0.0"/>
<line x1="554.0" y1="281.0" x2="554.0" y2="291.0" stroke-width="2.0" stroke-dasharray="3 2" stroke-dashoffset="0.0"/>
<line x1="565.5" y1="281.0" x2="565.5" y2="291.0" stroke-width="1.0" stroke-dasharray="2 2" stroke-dashoffset="2.0"/>
<line x1="567.0" y1="281.0" x2="567.0" y2="291.0" stroke-width="2.0" stroke-dasharray="3 2" stroke-dashoffset="3.0"/>
<line x1="570.5" y1="281.0" x2="570.5" y2="291.0" stroke-width="1.0" stroke-dasharray="2 1" stroke-dashoffset="0.0"/>
<line x1="571.5" y1="281.0" x2="571.5" y2="291.0" stroke-width="1.0" stroke-dasharray="3 1" stroke-dashoffset="3.0"/>
<line x1="572.5" y1="281.0" x2="572.5" y2="291.0" stroke-width="1.0" stroke-dasharray="2 1" stroke-dashoffset="0.0"/>
<line x1="576.5" y1="281.0" x2="576.5" y2="291.0" stroke-width="1.0" stroke-dasharray="2 1" stroke-dashoffset="0.0"/>
<line x1="581.5" y1="281.0" x2="581.5" y2="291.0" stroke-width="1.0" stroke-dasharray="2 1" stroke-dashoffset="0.0"/>
<line x1="582.5" y1="281.0" x2="582.5" y2="291.0" stroke-width="1.0" stroke-dasharray="3 1" stroke-dashoffset="1.0"/>
<line x1="583.5" y1="281.0" x2="583.5" y2="291.0" stroke-width="1.0" stroke-dasharray="2 2" stroke-dashoffset="1.0"/>
<line x1="590.5" y1="281.0" x2="590.5" y2="291.0" stroke-width="1.0" stroke-dasharray="3 2" stroke-dashoffset="0.0"/>
<line x1="593.0" y1="281.0" x2="593.0" y2="291.0" stroke-width="2.0" stroke-dasharray="2 2" stroke-dashoffset="3.0"/>
<line x1="594.5" y1="281.0" x2="594.5" y2="291.0" stroke-width="1.0" stroke-dasharray="2 2" stroke-dashoffset="2.0"/>
<line x1="597.0" y1="281.0" x2="597.0" y2="291.0" stroke-width="2.0" stroke-dasharray="3 2" stroke-dashoffset="2.0"/>
<line x1="599.0" y1="281.0" x2="599.0" y2="291.0" stroke-width="2.0" stroke-dasharray="3 1" stroke-dashoffset="1.0"/>
<line x1="600.5" y1="281.0" x2="600.5" y2="291.0" stroke-width="1.0" stroke-dasharray="3 1" stroke-dashoffset="2.0"/>
<line x1="606.5" y1="281.0" x2="606.5" y2="291.0" stroke-width="1.0" stroke-dasharray="2 1" stroke-dashoffset="0.0"/>
<line x1="611.5" y1="281.0" x2="611.5" y2="291.0" stroke-width="1.0" stroke-dasharray="2 2" stroke-dashoffset="2.0"/>
<line x1="621.5" y1="281.0" x2="621.5" y2="291.0" stroke-width="1.0" stroke-dasharray="2 2" stroke-dashoffset="0.0"/>
<line x1="625.0" y1="281.0" x2="625.0" y2="291.0" stroke-width="2.0" stroke-dasharray="3 1" stroke-dashoffset="3.0"/>
<line x1="633.0" y1="281.0" x2="633.0" y2="291.0" stroke-width="2.0" stroke-dasharray="3 1" stroke-dashoffset="1.0"/>
<line x1="646.0" y1="281.0" x2="646.0" y2="291.0" stroke-width="2.0" stroke-dasharray="3 2" stroke-dashoffset="0.0"/>
<line x1="648.0" y1="281.0" x2="648.0" y2="291.0" stroke-width="2.0" stroke-dasharray="3 2" stroke-dashoffset="0.0"/>
<line x1="650.5" y1="281.0" x2="650.5" y2="291.0" stroke-width="1.0" stroke-dasharray="2 1" stroke-dashoffset="0.0"/>
<line x1="651.5" y1="281.0" x2="651.5" y2="291.0" stroke-width="1.0" stroke-dasharray="3 1" stroke-dashoffset="2.0"/>
<line x1="665.5" y1="281.0" x2="665.5" y2="291.0" stroke-width="1.0" stroke-dasharray="2 2" stroke-dashoffset="1.0"/>
<line x1="674.5" y1="281.0" x2="674.5" y2="291.0" stroke-width="1.0" stroke-dasharray="2 1" stroke-dashoffset="2.0"/>
<line x1="676.5" y1="281.0" x2="676.5" y2="291.0" stroke-width="1.0" stroke-dasharray="2 2" stroke-dashoffset="0.0"/>
<line x1="681.5" y1="281.0" x2="681.5" y2="291.0" stroke-width="1.0" stroke-dasharray="2 1" stroke-dashoffset="1.0"/>
<line x1="683.5" y1="281.0" x2="683.5" y2="291.0" stroke-width="1.0" stroke-dasharray="2 1" stroke-dashoffset="2.0"/>
<line x1="685.0" y1="281.0" x2="685.0" y2="291.0" stroke-width="2.0" stroke-dasharray="3 1" stroke-dashoffset="3.0"/>
<line x1="687.0" y1="281.0" x2="687.0" y2="291.0" stroke-width="2.0" stroke-dasharray="2 2" stroke-dashoffset="1.0"/>
<line x1="689.0" y1="281.0" x2="689.0" y2="291.0" stroke-width="2.0" stroke-dasharray="3 1" stroke-dashoffset="3.0"/>
<line x1="692.0" y1="281.0" x2="692.0" y2="291.0" stroke-width="2.0" stroke-dasharray="2 1" stroke-dashoffset="0.0"/>
<line x1="696.5" y1="281.0" x2="696.5" y2="291.0" stroke-width="1.0" stroke-dasharray="3 2" stroke-dashoffset="1.0"/>
<line x1="697.5" y1="281.0" x2="697.5" y2="291.0" stroke-width="1.0" stroke-dasharray="2 2" stroke-dashoffset="3.0"/>
<line x1="698.5" y1="281.0" x2="698.5" y2="291.0" stroke-width="1.0" stroke-dasharray="2 2" stroke-dashoffset="3.0"/>
<line x1="699.5" y1="281.0" x2="699.5" y2="291.0" stroke-width="1.0" stroke-dasharray="3 1" stroke-dashoffset="0.0"/>
<line x1="702.5" y1="281.0" x2="702.5" y2="291.0" stroke-width="1.0" stroke-dasharray="3 1" stroke-dashoffset="1.0"/>
<line x1="705.5" y1="281.0" x2="705.5" y2="291.0" stroke-width="1.0" stroke-dasharray="3 1" stroke-dashoffset="0.0"/>
<line x1="706.5" y1="281.0" x2="706.5" y2="291.0" stroke-width="1.0" stroke-dasharray="3 2" stroke-dashoffset="0.0"/>
<line x1="707.5" y1="281.0" x2="707.5" y2="291.0" stroke-width="1.0" stroke-dasharray="3 2" stroke-dashoffset="0.0"/>
<line x1="708.5" y1="281.0" x2="708.5" y2="291.0" stroke-width="1.0" stroke-dasharray="3 2" stroke-dashoffset="0.0"/>
<line x1="710.5" y1="281.0" x2="710.5" y2="291.0" stroke-width="1.0" stroke-dasharray="3 1" stroke-dashoffset="2.0"/>
<line x1="711.5" y1="281.0" x2="711.5" y2="291.0" stroke-width="1.0" stroke-dasharray="2 1" stroke-dashoffset="1.0"/>
<line x1="712.5" y1="281.0" x2="712.5" y2="291.0" stroke-width="1.0" stroke-dasharray="2 2" stroke-dashoffset="0.0"/>
<line x1="713.5" y1="281.0" x2="713.5" y2="291.0" stroke-width="1.0" stroke-dasharray="2 1" stroke-dashoffset="0.0"/>
<line x1="720.5" y1="281.0" x2="720.5" y2="291.0" stroke-width="1.0" stroke-dasharray="3 1" stroke-dashoffset="0.0"/>
<line x1="721.5" y1="281.0" x2="721.5" y2="291.0" stroke-width="1.0" stroke-dasharray="2 1" stroke-dashoffset="2.0"/>
<line x1="723.0" y1="281.0" x2="723.0" y2="291.0" stroke-width="2.0" stroke-dasharray="2 1" stroke-dashoffset="1.0"/>
<line x1="734.0" y1="281.0" x2="734.0" y2="291.0" stroke-width="2.0" stroke-dasharray="2 1" stroke-dashoffset="1.0"/>
<line x1="735.5" y1="281.0" x2="735.5" y2="291.0" stroke-width="1.0" stroke-dasharray="3 1" stroke-dashoffset="1.0"/>
<line x1="741.5" y1="281.0" x2="741.5" y2="291.0" stroke-width="1.0" stroke-dasharray="3 1" stroke-dashoffset="3.0"/>
<line x1="749.0" y1="281.0" x2="749.0" y2="291.0" stroke-width="2.0" stroke-dasharray="3 2" stroke-dashoffset="0.0"/>
<line x1="750.5" y1="281.0" x2="750.5" y2="291.0" stroke-width="1.0" stroke-dasharray="3 2" stroke-dashoffset="0.0"/>
<line x1="753.5" y1="281.0" x2="753.5" y2="291.0" stroke-width="1.0" stroke-dasharray="2 1" stroke-dashoffset="0.0"/>
<line x1="754.5" y1="281.0" x2="754.5" y2="291.0" stroke-width="1.0" stroke-dasharray="2 2" stroke-dashoffset="0.0"/>
<line x1="759.0" y1="281.0" x2="759.0" y2="291.0" stroke-width="2.0" stroke-dasharray="3 2" stroke-dashoffset="0.0"/>
<line x1="771.5" y1="281.0" x2="771.5" y2="291.0" stroke-width="1.0" stroke-dasharray="3 1" stroke-dashoffset="1.0"/>
<line x1="772.5" y1="281.0" x2="772.5" y2="291.0" stroke-width="1.0" stroke-dasharray="3 2" stroke-dashoffset="1.0"/>
<line x1="774.0" y1="281.0" x2="774.0" y2="291.0" stroke-width="2.0" stroke-dasharray="2 2" stroke-dashoffset="0.0"/>
<line x1="780.5" y1="281.0" x2="780.5" y2="291.0" stroke-width="1.0" stroke-dasharray="3 1" stroke-dashoffset="2.0"/>
<line x1="786.5" y1="281.0" x2="786.5" y2="291.0" stroke-width="1.0" stroke-dasharray="3 1" stroke-dashoffset="0.0"/>
<line x1="787.5" y1="281.0" x2="787.5" y2="291.0" stroke-width="1.0" stroke-dasharray="3 2" stroke-dashoffset="1.0"/>
<line x1="790.0" y1="281.0" x2="790.0" y2="291.0" stroke-width="2.0" stroke-dasharray="3 1" stroke-dashoffset="2.0"/>
<line x1="799.0" y1="281.0" x2="799.0" y2="291.0" stroke-width="2.0" stroke-dasharray="3 2" stroke-dashoffset="1.0"/>
<line x1="801.0" y1="281.0" x2="801.0" y2="291.0" stroke-width="2.0" stroke-dasharray="2 2" stroke-dashoffset="0.0"/>
<line x1="811.5" y1="281.0" x2="811.5" y2="291.0" stroke-width="1.0" stroke-dasharray="3 1" stroke-dashoffset="0.0"/>
<line x1="812.5" y1="281.0" x2="812.5" y2="291.0" stroke-width="1.0" stroke-dasharray="3 1" stroke-dashoffset="2.0"/>
<line x1="813.5" y1="281.0" x2="813.5" y2="291.0" stroke-width="1.0" stroke-dasharray="3 2" stroke-dashoffset="0.0"/>
<line x1="815.0" y1="281.0" x2="815.0" y2="291.0" stroke-width="2.0" stroke-dasharray="3 1" stroke-dashoffset="3.0"/>
<line x1="819.5" y1="281.0" x2="819.5" y2="291.0" stroke-width="1.0" stroke-dasharray="2 2" stroke-dashoffset="0.0"/>
<line x1="822.0" y1="281.0" x2="822.0" y2="291.0" stroke-width="2.0" stroke-dasharray="3 1" stroke-dashoffset="2.0"/>
<line x1="826.5" y1="281.0" x2="826.5" y2="291.0" stroke-width="1.0" stroke-dasharray="2 1" stroke-dashoffset="1.0"/>
<line x1="829.0" y1="281.0" x2="829.0" y2="291.0" stroke-width="2.0" stroke-dasharray="2 2" stroke-dashoffset="3.0"/>
<line x1="830.5" y1="281.0" x2="830.5" y2="291.0" stroke-width="1.0" stroke-dasharray="2 1" stroke-dashoffset="0.0"/>
<line x1="833.5" y1="281.0" x2="833.5" y2="291.0" stroke-width="1.0" stroke-dasharray="3 2" stroke-dashoffset="0.0"/>
<line x1="834.5" y1="281.0" x2="834.5" y2="291.0" stroke-width="1.0" stroke-dasharray="2 1" stroke-dashoffset="3.0"/>
<line x1="836.5" y1="281.0" x2="836.5" y2="291.0" stroke-width="1.0" stroke-dasharray="2 1" stroke-dashoffset="3.0"/>
<line x1="839.0" y1="281.0" x2="839.0" y2="291.0" stroke-width="2.0" stroke-dasharray="2 1" stroke-dashoffset="0.0"/>
<line x1="842.5" y1="281.0" x2="842.5" y2="291.0" stroke-width="1.0" stroke-dasharray="3 1" stroke-dashoffset="0.0"/>
<line x1="844.5" y1="281.0" x2="844.5" y2="291.0" stroke-width="1.0" stroke-dasharray="2 1" stroke-dashoffset="1.0"/>
<line x1="858.0" y1="281.0" x2="858.0" y2="291.0" stroke-width="2.0" stroke-dasharray="3 1" stroke-dashoffset="2.0"/>
<line x1="860.0" y1="281.0" x2="860.0" y2="291.0" stroke-width="2.0" stroke-dasharray="2 2" stroke-dashoffset="1.0"/>
<line x1="861.5" y1="281.0" x2="861.5" y2="291.0" stroke-width="1.0" stroke-dasharray="2 1" stroke-dashoffset="0.0"/>
<line x1="865.5" y1="281.0" x2="865.5" y2="291.0" stroke-width="1.0" stroke-dasharray="2 2" stroke-dashoffset="0.0"/>
<line x1="867.0" y1="281.0" x2="867.0" y2="291.0" stroke-width="2.0" stroke-dasharray="3 1" stroke-dashoffset="0.0"/>
<line x1="868.5" y1="281.0" x2="868.5" y2="291.0" stroke-width="1.0" stroke-dasharray="2 1" stroke-dashoffset="2.0"/>
<line x1="871.0" y1="281.0" x2="871.0" y2="291.0" stroke-width="2.0" stroke-dasharray="3 2" stroke-dashoffset="0.0"/>
<line x1="877.5" y1="281.0" x2="877.5" y2="291.0" stroke-width="1.0" stroke-dasharray="3 2" stroke-dashoffset="1.0"/>
<line x1="879.0" y1="281.0" x2="879.0" y2="291.0" stroke-width="2.0" stroke-dasharray="3 1" stroke-dashoffset="0.0"/>
<line x1="883.5" y1="281.0" x2="883.5" y2="291.0" stroke-width="1.0" stroke-dasharray="2 2" stroke-dashoffset="1.0"/>
<line x1="885.0" y1="281.0" x2="885.0" y2="291.0" stroke-width="2.0" stroke-dasharray="2 1" stroke-dashoffset="0.0"/>
<line x1="886.5" y1="281.0" x2="886.5" y2="291.0" stroke-width="1.0" stroke-dasharray="2 1" stroke-dashoffset="0.0"/>
<line x1="887.5" y1="281.0" x2="887.5" y2="291.0" stroke-width="1.0" stroke-dasharray="2 2" stroke-dashoffset="3.0"/>
<line x1="889.0" y1="281.0" x2="889.0" y2="291.0" stroke-width="2.0" stroke-dasharray="2 1" stroke-dashoffset="0.0"/>
<line x1="892.5" y1="281.0" x2="892.5" y2="291.0" stroke-width="1.0" stroke-dasharray="2 2" stroke-dashoffset="2.0"/>
<line x1="894.0" y1="281.0" x2="894.0" y2="291.0" stroke-width="2.0" stroke-dasharray="3 1" stroke-dashoffset="0.0"/>
<line x1="895.5" y1="281.0" x2="895.5" y2="291.0" stroke-width="1.0" stroke-dasharray="3 1" stroke-dashoffset="1.0"/>
<line x1="896.5" y1="281.0" x2="896.5" y2="291.0" stroke-width="1.0" stroke-dasharray="2 1" stroke-dashoffset="3.0"/>
<line x1="897.5" y1="281.0" x2="897.5" y2="291.0" stroke-width="1.0" stroke-dasharray="3 1" stroke-dashoffset="1.0"/>
<line x1="898.5" y1="281.0" x2="898.5" y2="291.0" stroke-width="1.0" stroke-dasharray="2 2" stroke-dashoffset="1.0"/>
<line x1="914.0" y1="281.0" x2="914.0" y2="291.0" stroke-width="2.0" stroke-dasharray="3 2" stroke-dashoffset="0.0"/>
<line x1="915.5" y1="281.0" x2="915.5" y2="291.0" stroke-width="1.0" stroke-dasharray="3 1" stroke-dashoffset="2.0"/>
<line x1="919.5" y1="281.0" x2="919.5" y2="291.0" stroke-width="1.0" stroke-dasharray="3 2" stroke-dashoffset="0.0"/>
<line x1="921.0" y1="281.0" x2="921.0" y2="291.0" stroke-width="2.0" stroke-dasharray="2 2" stroke-dashoffset="3.0"/>
<line x1="923.0" y1="281.0" x2="923.0" y2="291.0" stroke-width="2.0" stroke-dasharray="3 2" stroke-dashoffset="1.0"/>
<line x1="925.0" y1="281.0" x2="925.0" y2="291.0" stroke-width="2.0" stroke-dasharray="2 2" stroke-dashoffset="0.0"/>
<line x1="929.0" y1="281.0" x2="929.0" y2="291.0" stroke-width="2.0" stroke-dasharray="3 2" stroke-dashoffset="3.0"/>
<line x1="933.0" y1="281.0" x2="933.0" y2="291.0" stroke-width="2.0" stroke-dasharray="2 2" stroke-dashoffset="0.0"/>
<line x1="937.5" y1="281.0" x2="937.5" y2="291.0" stroke-width="1.0" stroke-dasharray="2 2" stroke-dashoffset="0.0"/>
<line x1="938.5" y1="281.0" x2="938.5" y2="291.0" stroke-width="1.0" stroke-dasharray="3 2" stroke-dashoffset="0.0"/>
<line x1="950.5" y1="281.0" x2="950.5" y2="291.0" stroke-width="1.0" stroke-dasharray="2 2" stroke-dashoffset="0.0"/>
<line x1="952.5" y1="281.0" x2="952.5" y2="291.0" stroke-width="1.0" stroke-dasharray="2 2" stroke-dashoffset="1.0"/>
<line x1="953.5" y1="281.0" x2="953.5" y2="291.0" stroke-width="1.0" stroke-dasharray="2 2" stroke-dashoffset="2.0"/>
<line x1="954.5" y1="281.0" x2="954.5" y2="291.0" stroke-width="1.0" stroke-dasharray="3 2" stroke-dashoffset="3.0"/>
<line x1="955.5" y1="281.0" x2="955.5" y2="291.0" stroke-width="1.0" stroke-dasharray="3 1" stroke-dashoffset="2.0"/>
<line x1="147.0" y1="346.0" x2="147.0" y2="355.4" stroke-width="2.0" stroke-dasharray="2 2" stroke-dashoffset="1.0"/>
<line x1="148.5" y1="346.0" x2="148.5" y2="355.4" stroke-width="1.0" stroke-dasharray="3 1" stroke-dashoffset="2.0"/>
<line x1="156.5" y1="346.0" x2="156.5" y2="355.4" stroke-width="1.0" stroke-dasharray="2 1" stroke-dashoffset="3.0"/>
<line x1="157.5" y1="346.0" x2="157.5" y2="355.4" stroke-width="1.0" stroke-dasharray="3 1" stroke-dashoffset="0.0"/>
<line x1="158.5" y1="346.0" x2="158.5" y2="355.4" stroke-width="1.0" stroke-dasharray="2 2" stroke-dashoffset="3.0"/>
<line x1="160.5" y1="346.0" x2="160.5" y2="355.4" stroke-width="1.0" stroke-dasharray="3 2" stroke-dashoffset="3.0"/>
<line x1="161.5" y1="346.0" x2="161.5" y2="355.4" stroke-width="1.0" stroke-dasharray="3 1" stroke-dashoffset="3.0"/>
<line x1="164.0" y1="346.0" x2="164.0" y2="355.4" stroke-width="2.0" stroke-dasharray="2 2" stroke-dashoffset="2.0"/>
<line x1="167.0" y1="346.0" x2="167.0" y2="355.4" stroke-width="2.0" stroke-dasharray="3 1" stroke-dashoffset="0.0"/>
<line x1="177.0" y1="346.0" x2="177.0" y2="355.4" stroke-width="2.0" stroke-dasharray="2 2" stroke-dashoffset="3.0"/>
<line x1="179.5" y1="346.0" x2="179.5" y2="355.4" stroke-width="1.0" stroke-dasharray="2 2" stroke-dashoffset="2.0"/>
<line x1="180.5" y1="346.0" x2="180.5" y2="355.4" stroke-width="1.0" stroke-dasharray="3 1" stroke-dashoffset="3.0"/>
<line x1="182.5" y1="346.0" x2="182.5" y2="355.4" stroke-width="1.0" stroke-dasharray="2 1" stroke-dashoffset="0.0"/>
<line x1="183.5" y1="346.0" x2="183.5" y2="355.4" stroke-width="1.0" stroke-dasharray="3 1" stroke-dashoffset="0.0"/>
<line x1="186.0" y1="346.0" x2="186.0" y2="355.4" stroke-width="2.0" stroke-dasharray="3 2" stroke-dashoffset="0.0"/>
<line x1="189.5" y1="346.0" x2="189.5" y2="355.4" stroke-width="1.0" stroke-dasharray="3 2" stroke-dashoffset="0.0"/>
<line x1="190.5" y1="346.0" x2="190.5" y2="355.4" stroke-width="1.0" stroke-dasharray="3 2" stroke-dashoffset="2.0"/>
<line x1="192.5" y1="346.0" x2="192.5" y2="355.4" stroke-width="1.0" stroke-dasharray="2 2" stroke-dashoffset="3.0"/>
<line x1="196.5" y1="346.0" x2="196.5" y2="355.4" stroke-width="1.0" stroke-dasharray="2 2" stroke-dashoffset="2.0"/>
<line x1="204.5" y1="346.0" x2="204.5" y2="355.4" stroke-width="1.0" stroke-dasharray="3 1" stroke-dashoffset="3.0"/>
<line x1="208.0" y1="346.0" x2="208.0" y2="355.4" stroke-width="2.0" stroke-dasharray="2 2" stroke-dashoffset="2.0"/>
<line x1="216.5" y1="346.0" x2="216.5" y2="355.4" stroke-width="1.0" stroke-dasharray="2 1" stroke-dashoffset="0.0"/>
<line x1="232.0" y1="346.0" x2="232.0" y2="355.4" stroke-width="2.0" stroke-dasharray="2 1" stroke-dashoffset="0.0"/>
<line x1="234.0" y1="346.0" x2="234.0" y2="355.4" stroke-width="2.0" stroke-dasharray="2 2" stroke-dashoffset="3.0"/>
<line x1="235.5" y1="346.0" x2="235.5" y2="355.4" stroke-width="1.0" stroke-dasharray="3 1" stroke-dashoffset="1.0"/>
<line x1="239.5" y1="346.0" x2="239.5" y2="355.4" stroke-width="1.0" stroke-dasharray="2 1" stroke-dashoffset="2.0"/>
<line x1="242.5" y1="346.0" x2="242.5" y2="355.4" stroke-width="1.0" stroke-dasharray="3 2" stroke-dashoffset="1.0"/>
<line x1="245.0" y1="346.0" x2="245.0" y2="355.4" stroke-width="2.0" stroke-dasharray="3 2" stroke-dashoffset="3.0"/>
<line x1="246.5" y1="346.0" x2="246.5" y2="355.4" stroke-width="1.0" stroke-dasharray="2 2" stroke-dashoffset="2.0"/>
<line x1="248.5" y1="346.0" x2="248.5" y2="355.4" stroke-width="1.0" stroke-dasharray="2 1" stroke-dashoffset="3.0"/>
<line x1="251.0" y1="346.0" x2="251.0" y2="355.4" stroke-width="2.0" stroke-dasharray="3 1" stroke-dashoffset="0.0"/>
<line x1="256.5" y1="346.0" x2="256.5" y2="355.4" stroke-width="1.0" stroke-dasharray="3 1" stroke-dashoffset="2.0"/>
<line x1="260.0" y1="346.0" x2="260.0" y2="355.4" stroke-width="2.0" stroke-dasharray="2 2" stroke-dashoffset="0.0"/>
<line x1="262.0" y1="346.0" x2="262.0" y2="355.4" stroke-width="2.0" stroke-dasharray="3 2" stroke-dashoffset="3.0"/>
<line x1="265.0" y1="346.0" x2="265.0" y2="355.4" stroke-width="2.0" stroke-dasharray="3 1" stroke-dashoffset="0.0"/>
<line x1="268.5" y1="346.0" x2="268.5" y2="355.4" stroke-width="1.0" stroke-dasharray="2 1" stroke-dashoffset="1.0"/>
<line x1="270.5" y1="346.0" x2="270.5" y2="355.4" stroke-width="1.0" stroke-dasharray="3 1" stroke-dashoffset="0.0"/>
<line x1="271.5" y1="346.0" x2="271.5" y2="355.4" stroke-width="1.0" stroke-dasharray="3 1" stroke-dashoffset="1.0"/>
<line x1="277.0" y1="346.0" x2="277.0" y2="355.4" stroke-width="2.0" stroke-dasharray="2 2" stroke-dashoffset="1.0"/>
<line x1="279.5" y1="346.0" x2="279.5" y2="355.4" stroke-width="1.0" stroke-dasharray="2 1" stroke-dashoffset="1.0"/>
<line x1="282.5" y1="346.0" x2="282.5" y2="355.4" stroke-width="1.0" stroke-dasharray="2 2" stroke-dashoffset="0.0"/>
<line x1="285.5" y1="346.0" x2="285.5" y2="355.4" stroke-width="1.0" stroke-dasharray="2 1" stroke-dashoffset="1.0"/>
<line x1="286.5" y1="346.0" x2="286.5" y2="355.4" stroke-width="1.0" stroke-dasharray="2 1" stroke-dashoffset="3.0"/>
<line x1="287.5" y1="346.0" x2="287.5" y2="355.4" stroke-width="1.0" stroke-dasharray="3 2" stroke-dashoffset="0.0"/>
<line x1="288.5" y1="346.0" x2="288.5" y2="355.4" stroke-width="1.0" stroke-dasharray="3 2" stroke-dashoffset="2.0"/>
<line x1="289.5" y1="346.0" x2="289.5" y2="355.4" stroke-width="1.0" stroke-dasharray="2 1" stroke-dashoffset="3.0"/>
<line x1="293.0" y1="346.0" x2="293.0" y2="355.4" stroke-width="2.0" stroke-dasharray="2 1" stroke-dashoffset="0.0"/>
<line x1="296.5" y1="346.0" x2="296.5" y2="355.4" stroke-width="1.0" stroke-dasharray="3 1" stroke-dashoffset="0.0"/>
<line x1="297.5" y1="346.0" x2="297.5" y2="355.4" stroke-width="1.0" stroke-dasharray="2 2" stroke-dashoffset="1.0"/>
<line x1="301.5" y1="346.0" x2="301.5" y2="355.4" stroke-width="1.0" stroke-dasharray="2 1" stroke-dashoffset="0.0"/>
<line x1="302.5" y1="346.0" x2="302.5" y2="355.4" stroke-width="1.0" stroke-dasharray="3 1" stroke-dashoffset="1.0"/>
<line x1="304.0" y1="346.0" x2="304.0" y2="355.4" stroke-width="2.0" stroke-dasharray="2 2" stroke-dashoffset="3.0"/>
<line x1="305.5" y1="346.0" x2="305.5" y2="355.4" stroke-width="1.0" stroke-dasharray="3 2" stroke-dashoffset="1.0"/>
<line x1="309.0" y1="346.0" x2="309.0" y2="355.4" stroke-width="2.0" stroke-dasharray="3 2" stroke-dashoffset="3.0"/>
<line x1="310.5" y1="346.0" x2="310.5" y2="355.4" stroke-width="1.0" stroke-dasharray="2 2" stroke-dashoffset="0.0"/>
<line x1="312.5" y1="346.0" x2="312.5" y2="355.4" stroke-width="1.0" stroke-dasharray="3 2" stroke-dashoffset="1.0"/>
<line x1="318.5" y1="346.0" x2="318.5" y2="355.4" stroke-width="1.0" stroke-dasharray="3 2" stroke-dashoffset="3.0"/>
<line x1="322.5" y1="346.0" x2="322.5" y2="355.4" stroke-width="1.0" stroke-dasharray="3 1" stroke-dashoffset="0.0"/>
<line x1="323.5" y1="346.0" x2="323.5" y2="355.4" stroke-width="1.0" stroke-dasharray="2 2" stroke-dashoffset="0.0"/>
<line x1="324.5" y1="346.0" x2="324.5" y2="355.4" stroke-width="1.0" stroke-dasharray="3 1" stroke-dashoffset="1.0"/>
<line x1="326.0" y1="346.0" x2="326.0" y2="355.4" stroke-width="2.0" stroke-dasharray="2 1" stroke-dashoffset="0.0"/>
<line x1="330.0" y1="346.0" x2="330.0" y2="355.4" stroke-width="2.0" stroke-dasharray="2 1" stroke-dashoffset="3.0"/>
<line x1="339.5" y1="346.0" x2="339.5" y2="355.4" stroke-width="1.0" stroke-dasharray="3 2" stroke-dashoffset="0.0"/>
<line x1="344.0" y1="346.0" x2="344.0" y2="355.4" stroke-width="2.0" stroke-dasharray="2 2" stroke-dashoffset="3.0"/>
<line x1="347.5" y1="346.0" x2="347.5" y2="355.4" stroke-width="1.0" stroke-dasharray="2 2" stroke-dashoffset="3.0"/>
<line x1="350.5" y1="346.0" x2="350.5" y2="355.4" stroke-width="1.0" stroke-dasharray="2 1" stroke-dashoffset="3.0"/>
<line x1="352.5" y1="346.0" x2="352.5" y2="355.4" stroke-width="1.0" stroke-dasharray="2 1" stroke-dashoffset="1.0"/>
<line x1="353.5" y1="346.0" x2="353.5" y2="355.4" stroke-width="1.0" stroke-dasharray="2 2" stroke-dashoffset="3.0"/>
<line x1="355.0" y1="346.0" x2="355.0" y2="355.4" stroke-width="2.0" stroke-dasharray="3 1" stroke-dashoffset="3.0"/>
<line x1="359.5" y1="346.0" x2="359.5" y2="355.4" stroke-width="1.0" stroke-dasharray="3 1" stroke-dashoffset="2.0"/>
<line x1="362.5" y1="346.0" x2="362.5" y2="355.4" stroke-width="1.0" stroke-dasharray="3 2" stroke-dashoffset="2.0"/>
<line x1="364.0" y1="346.0" x2="364.0" y2="355.4" stroke-width="2.0" stroke-dasharray="3 1" stroke-dashoffset="2.0"/>
<line x1="366.0" y1="346.0" x2="366.0" y2="355.4" stroke-width="2.0" stroke-dasharray="3 1" stroke-dashoffset="2.0"/>
<line x1="374.5" y1="346.0" x2="374.5" y2="355.4" stroke-width="1.0" stroke-dasharray="2 1" stroke-dashoffset="1.0"/>
<line x1="375.5" y1="346.0" x2="375.5" y2="355.4" stroke-width="1.0" stroke-dasharray="3 2" stroke-dashoffset="2.0"/>
<line x1="379.0" y1="346.0" x2="379.0" y2="355.4" stroke-width="2.0" stroke-dasharray="2 1" stroke-dashoffset="3.0"/>
<line x1="380.5" y1="346.0" x2="380.5" y2="355.4" stroke-width="1.0" stroke-dasharray="3 2" stroke-dashoffset="3.0"/>
<line x1="381.5" y1="346.0" x2="381.5" y2="355.4" stroke-width="1.0" stroke-dasharray="3 1" stroke-dashoffset="0.0"/>
<line x1="384.0" y1="346.0" x2="384.0" y2="355.4" stroke-width="2.0" stroke-dasharray="3 2" stroke-dashoffset="2.0"/>
<line x1="385.5" y1="346.0" x2="385.5" y2="355.4" stroke-width="1.0" stroke-dasharray="3 1" stroke-dashoffset="2.0"/>
<line x1="392.5" y1="346.0" x2="392.5" y2="355.4" stroke-width="1.0" stroke-dasharray="3 1" stroke-dashoffset="3.0"/>
<line x1="397.5" y1="346.0" x2="397.5" y2="355.4" stroke-width="1.0" stroke-dasharray="3 2" stroke-dashoffset="2.0"/>
<line x1="398.5" y1="346.0" x2="398.5" y2="355.4" stroke-width="1.0" stroke-dasharray="2 1" stroke-dashoffset="3.0"/>
<line x1="401.5" y1="346.0" x2="401.5" y2="355.4" stroke-width="1.0" stroke-dasharray="3 1" stroke-dashoffset="0.0"/>
<line x1="406.5" y1="346.0" x2="406.5" y2="355.4" stroke-width="1.0" stroke-dasharray="3 2" stroke-dashoffset="1.0"/>
<line x1="417.5" y1="346.0" x2="417.5" y2="355.4" stroke-width="1.0" stroke-dasharray="2 1" stroke-dashoffset="2.0"/>
<line x1="418.5" y1="346.0" x2="418.5" y2="355.4" stroke-width="1.0" stroke-dasharray="2 1" stroke-dashoffset="0.0"/>
<line x1="424.5" y1="346.0" x2="424.5" y2="355.4" stroke-width="1.0" stroke-dasharray="3 2" stroke-dashoffset="0.0"/>
<line x1="428.5" y1="346.0" x2="428.5" y2="355.4" stroke-width="1.0" stroke-dasharray="3 2" stroke-dashoffset="1.0"/>
<line x1="430.0" y1="346.0" x2="430.0" y2="355.4" stroke-width="2.0" stroke-dasharray="2 1" stroke-dashoffset="0.0"/>
<line x1="431.5" y1="346.0" x2="431.5" y2="355.4" stroke-width="1.0" stroke-dasharray="2 2" stroke-dashoffset="0.0"/>
<line x1="437.5" y1="346.0" x2="437.5" y2="355.4" stroke-width="1.0" stroke-dasharray="2 2" stroke-dashoffset="3.0"/>
<line x1="438.5" y1="346.0" x2="438.5" y2="355.4" stroke-width="1.0" stroke-dasharray="2 2" stroke-dashoffset="2.0"/>
<line x1="450.0" y1="346.0" x2="450.0" y2="355.4" stroke-width="2.0" stroke-dasharray="3 1" stroke-dashoffset="2.0"/>
<line x1="459.0" y1="346.0" x2="459.0" y2="355.4" stroke-width="2.0" stroke-dasharray="3 1" stroke-dashoffset="2.0"/>
<line x1="467.5" y1="346.0" x2="467.5" y2="355.4" stroke-width="1.0" stroke-dasharray="3 1" stroke-dashoffset="1.0"/>
<line x1="469.0" y1="346.0" x2="469.0" y2="355.4" stroke-width="2.0" stroke-dasharray="2 2" stroke-dashoffset="3.0"/>
<line x1="470.5" y1="346.0" x2="470.5" y2="355.4" stroke-width="1.0" stroke-dasharray="3 2" stroke-dashoffset="0.0"/>
<line x1="473.0" y1="346.0" x2="473.0" y2="355.4" stroke-width="2.0" stroke-dasharray="3 2" stroke-dashoffset="1.0"/>
<line x1="475.5" y1="346.0" x2="475.5" y2="355.4" stroke-width="1.0" stroke-dasharray="3 1" stroke-dashoffset="0.0"/>
<line x1="479.0" y1="346.0" x2="479.0" y2="355.4" stroke-width="2.0" stroke-dasharray="2 2" stroke-dashoffset="2.0"/>
<line x1="481.0" y1="346.0" x2="481.0" y2="355.4" stroke-width="2.0" stroke-dasharray="2 2" stroke-dashoffset="0.0"/>
<line x1="487.5" y1="346.0" x2="487.5" y2="355.4" stroke-width="1.0" stroke-dasharray="3 2" stroke-dashoffset="2.0"/>
<line x1="489.5" y1="346.0" x2="489.5" y2="355.4" stroke-width="1.0" stroke-dasharray="3 2" stroke-dashoffset="0.0"/>
<line x1="492.0" y1="346.0" x2="492.0" y2="355.4" stroke-width="2.0" stroke-dasharray="3 2" stroke-dashoffset="0.0"/>
<line x1="494.5" y1="346.0" x2="494.5" y2="355.4" stroke-width="1.0" stroke-dasharray="2 2" stroke-dashoffset="3.0"/>
<line x1="497.0" y1="346.0" x2="497.0" y2="355.4" stroke-width="2.0" stroke-dasharray="2 1" stroke-dashoffset="0.0"/>
<line x1="503.5" y1="346.0" x2="503.5" y2="355.4" stroke-width="1.0" stroke-dasharray="2 1" stroke-dashoffset="3.0"/>
<line x1="520.0" y1="346.0" x2="520.0" y2="355.4" stroke-width="2.0" stroke-dasharray="3 2" stroke-dashoffset="2.0"/>
<line x1="523.5" y1="346.0" x2="523.5" y2="355.4" stroke-width="1.0" stroke-dasharray="3 1" stroke-dashoffset="0.0"/>
<line x1="525.0" y1="346.0" x2="525.0" y2="355.4" stroke-width="2.0" stroke-dasharray="2 2" stroke-dashoffset="1.0"/>
<line x1="527.5" y1="346.0" x2="527.5" y2="355.4" stroke-width="1.0" stroke-dasharray="3 1" stroke-dashoffset="1.0"/>
<line x1="533.5" y1="346.0" x2="533.5" y2="355.4" stroke-width="1.0" stroke-dasharray="3 2" stroke-dashoffset="0.0"/>
<line x1="534.5" y1="346.0" x2="534.5" y2="355.4" stroke-width="1.0" stroke-dasharray="3 2" stroke-dashoffset="0.0"/>
<line x1="536.0" y1="346.0" x2="536.0" y2="355.4" stroke-width="2.0" stroke-dasharray="2 1" stroke-dashoffset="0.0"/>
<line x1="549.0" y1="346.0" x2="549.0" y2="355.4" stroke-width="2.0" stroke-dasharray="2 2" stroke-dashoffset="0.0"/>
<line x1="551.0" y1="346.0" x2="551.0" y2="355.4" stroke-width="2.0" stroke-dasharray="3 2" stroke-dashoffset="3.0"/>
<line x1="553.0" y1="346.0" x2="553.0" y2="355.4" stroke-width="2.0" stroke-dasharray="2 1" stroke-dashoffset="0.0"/>
<line x1="555.0" y1="346.0" x2="555.0" y2="355.4" stroke-width="2.0" stroke-dasharray="2 1" stroke-dashoffset="3.0"/>
<line x1="556.5" y1="346.0" x2="556.5" y2="355.4" stroke-width="1.0" stroke-dasharray="3 1" stroke-dashoffset="2.0"/>
<line x1="558.0" y1="346.0" x2="558.0" y2="355.4" stroke-width="2.0" stroke-dasharray="3 1" stroke-dashoffset="0.0"/>
<line x1="567.0" y1="346.0" x2="567.0" y2="355.4" stroke-width="2.0" stroke-dasharray="3 2" stroke-dashoffset="1.0"/>
<line x1="569.5" y1="346.0" x2="569.5" y2="355.4" stroke-width="1.0" stroke-dasharray="2 2" stroke-dashoffset="2.0"/>
<line x1="570.5" y1="346.0" x2="570.5" y2="355.4" stroke-width="1.0" stroke-dasharray="2 2" stroke-dashoffset="2.0"/>
<line x1="576.5" y1="346.0" x2="576.5" y2="355.4" stroke-width="1.0" stroke-dasharray="2 1" stroke-dashoffset="2.0"/>
<line x1="577.5" y1="346.0" x2="577.5" y2="355.4" stroke-width="1.0" stroke-dasharray="3 1" stroke-dashoffset="0.0"/>
<line x1="578.5" y1="346.0" x2="578.5" y2="355.4" stroke-width="1.0" stroke-dasharray="3 1" stroke-dashoffset="0.0"/>
<line x1="582.5" y1="346.0" x2="582.5" y2="355.4" stroke-width="1.0" stroke-dasharray="2 2" stroke-dashoffset="0.0"/>
<line x1="583.5" y1="346.0" x2="583.5" y2="355.4" stroke-width="1.0" stroke-dasharray="2 2" stroke-dashoffset="2.0"/>
<line x1="586.5" y1="346.0" x2="586.5" y2="355.4" stroke-width="1.0" stroke-dasharray="2 1" stroke-dashoffset="0.0"/>
<line x1="587.5" y1="346.0" x2="587.5" y2="355.4" stroke-width="1.0" stroke-dasharray="2 2" stroke-dashoffset="0.0"/>
<line x1="588.5" y1="346.0" x2="588.5" y2="355.4" stroke-width="1.0" stroke-dasharray="3 2" stroke-dashoffset="0.0"/>
<line x1="589.5" y1="346.0" x2="589.5" y2="355.4" stroke-width="1.0" stroke-dasharray="3 2" stroke-dashoffset="0.0"/>
<line x1="597.5" y1="346.0" x2="597.5" y2="355.4" stroke-width="1.0" stroke-dasharray="2 2" stroke-dashoffset="0.0"/>
<line x1="616.0" y1="346.0" x2="616.0" y2="355.4" stroke-width="2.0" stroke-dasharray="3 2" stroke-dashoffset="2.0"/>
<line x1="618.0" y1="346.0" x2="618.0" y2="355.4" stroke-width="2.0" stroke-dasharray="3 2" stroke-dashoffset="0.0"/>
<line x1="621.0" y1="346.0" x2="621.0" y2="355.4" stroke-width="2.0" stroke-dasharray="3 1" stroke-dashoffset="1.0"/>
<line x1="623.0" y1="346.0" x2="623.0" y2="355.4" stroke-width="2.0" stroke-dasharray="2 2" stroke-dashoffset="0.0"/>
<line x1="625.5" y1="346.0" x2="625.5" y2="355.4" stroke-width="1.0" stroke-dasharray="3 2" stroke-dashoffset="3.0"/>
<line x1="631.5" y1="346.0" x2="631.5" y2="355.4" stroke-width="1.0" stroke-dasharray="2 2" stroke-dashoffset="1.0"/>
<line x1="634.0" y1="346.0" x2="634.0" y2="355.4" stroke-width="2.0" stroke-dasharray="2 1" stroke-dashoffset="2.0"/>
<line x1="639.5" y1="346.0" x2="639.5" y2="355.4" stroke-width="1.0" stroke-dasharray="2 1" stroke-dashoffset="0.0"/>
<line x1="641.0" y1="346.0" x2="641.0" y2="355.4" stroke-width="2.0" stroke-dasharray="3 2" stroke-dashoffset="0.0"/>
<line x1="642.5" y1="346.0" x2="642.5" y2="355.4" stroke-width="1.0" stroke-dasharray="3 2" stroke-dashoffset="0.0"/>
<line x1="644.5" y1="346.0" x2="644.5" y2="355.4" stroke-width="1.0" stroke-dasharray="3 1" stroke-dashoffset="1.0"/>
<line x1="645.5" y1="346.0" x2="645.5" y2="355.4" stroke-width="1.0" stroke-dasharray="2 2" stroke-dashoffset="1.0"/>
<line x1="657.5" y1="346.0" x2="657.5" y2="355.4" stroke-width="1.0" stroke-dasharray="3 2" stroke-dashoffset="2.0"/>
<line x1="659.0" y1="346.0" x2="659.0" y2="355.4" stroke-width="2.0" stroke-dasharray="3 1" stroke-dashoffset="0.0"/>
<line x1="662.5" y1="346.0" x2="662.5" y2="355.4" stroke-width="1.0" stroke-dasharray="2 2" stroke-dashoffset="1.0"/>
<line x1="665.0" y1="346.0" x2="665.0" y2="355.4" stroke-width="2.0" stroke-dasharray="2 2" stroke-dashoffset="0.0"/>
<line x1="668.0" y1="346.0" x2="668.0" y2="355.4" stroke-width="2.0" stroke-dasharray="2 2" stroke-dashoffset="0.0"/>
<line x1="679.5" y1="346.0" x2="679.5" y2="355.4" stroke-width="1.0" stroke-dasharray="2 1" stroke-dashoffset="3.0"/>
<line x1="680.5" y1="346.0" x2="680.5" y2="355.4" stroke-width="1.0" stroke-dasharray="2 2" stroke-dashoffset="0.0"/>
<line x1="683.5" y1="346.0" x2="683.5" y2="355.4" stroke-width="1.0" stroke-dasharray="2 1" stroke-dashoffset="0.0"/>
<line x1="695.0" y1="346.0" x2="695.0" y2="355.4" stroke-width="2.0" stroke-dasharray="2 1" stroke-dashoffset="2.0"/>
<line x1="697.0" y1="346.0" x2="697.0" y2="355.4" stroke-width="2.0" stroke-dasharray="3 2" stroke-dashoffset="2.0"/>
<line x1="699.0" y1="346.0" x2="699.0" y2="355.4" stroke-width="2.0" stroke-dasharray="3 1" stroke-dashoffset="2.0"/>
<line x1="712.5" y1="346.0" x2="712.5" y2="355.4" stroke-width="1.0" stroke-dasharray="3 2" stroke-dashoffset="1.0"/>
<line x1="713.5" y1="346.0" x2="713.5" y2="355.4" stroke-width="1.0" stroke-dasharray="2 2" stroke-dashoffset="3.0"/>
<line x1="715.0" y1="346.0" x2="715.0" y2="355.4" stroke-width="2.0" stroke-dasharray="2 2" stroke-dashoffset="0.0"/>
<line x1="719.5" y1="346.0" x2="719.5" y2="355.4" stroke-width="1.0" stroke-dasharray="2 1" stroke-dashoffset="3.0"/>
<line x1="720.5" y1="346.0" x2="720.5" y2="355.4" stroke-width="1.0" stroke-dasharray="3 2" stroke-dashoffset="3.0"/>
<line x1="732.0" y1="346.0" x2="732.0" y2="355.4" stroke-width="2.0" stroke-dasharray="2 2" stroke-dashoffset="2.0"/>
<line x1="733.5" y1="346.0" x2="733.5" y2="355.4" stroke-width="1.0" stroke-dasharray="2 2" stroke-dashoffset="0.0"/>
<line x1="738.0" y1="346.0" x2="738.0" y2="355.4" stroke-width="2.0" stroke-dasharray="3 2" stroke-dashoffset="0.0"/>
<line x1="742.5" y1="346.0" x2="742.5" y2="355.4" stroke-width="1.0" stroke-dasharray="3 1" stroke-dashoffset="3.0"/>
<line x1="744.5" y1="346.0" x2="744.5" y2="355.4" stroke-width="1.0" stroke-dasharray="2 2" stroke-dashoffset="3.0"/>
<line x1="746.0" y1="346.0" x2="746.0" y2="355.4" stroke-width="2.0" stroke-dasharray="3 2" stroke-dashoffset="1.0"/>
<line x1="750.5" y1="346.0" x2="750.5" y2="355.4" stroke-width="1.0" stroke-dasharray="3 1" stroke-dashoffset="2.0"/>
<line x1="751.5" y1="346.0" x2="751.5" y2="355.4" stroke-width="1.0" stroke-dasharray="3 1" stroke-dashoffset="1.0"/>
<line x1="753.0" y1="346.0" x2="753.0" y2="355.4" stroke-width="2.0" stroke-dasharray="3 2" stroke-dashoffset="1.0"/>
<line x1="754.5" y1="346.0" x2="754.5" y2="355.4" stroke-width="1.0" stroke-dasharray="3 2" stroke-dashoffset="1.0"/>
<line x1="755.5" y1="346.0" x2="755.5" y2="355.4" stroke-width="1.0" stroke-dasharray="2 2" stroke-dashoffset="3.0"/>
<line x1="756.5" y1="346.0" x2="756.5" y2="355.4" stroke-width="1.0" stroke-dasharray="3 1" stroke-dashoffset="1.0"/>
<line x1="757.5" y1="346.0" x2="757.5" y2="355.4" stroke-width="1.0" stroke-dasharray="3 1" stroke-dashoffset="0.0"/>
<line x1="761.5" y1="346.0" x2="761.5" y2="355.4" stroke-width="1.0" stroke-dasharray="2 1" stroke-dashoffset="3.0"/>
<line x1="762.5" y1="346.0" x2="762.5" y2="355.4" stroke-width="1.0" stroke-dasharray="3 2" stroke-dashoffset="0.0"/>
<line x1="763.5" y1="346.0" x2="763.5" y2="355.4" stroke-width="1.0" stroke-dasharray="2 2" stroke-dashoffset="1.0"/>
<line x1="767.0" y1="346.0" x2="767.0" y2="355.4" stroke-width="2.0" stroke-dasharray="2 2" stroke-dashoffset="0.0"/>
<line x1="768.5" y1="346.0" x2="768.5" y2="355.4" stroke-width="1.0" stroke-dasharray="2 2" stroke-dashoffset="3.0"/>
<line x1="770.0" y1="346.0" x2="770.0" y2="355.4" stroke-width="2.0" stroke-dasharray="2 2" stroke-dashoffset="3.0"/>
<line x1="772.0" y1="346.0" x2="772.0" y2="355.4" stroke-width="2.0" stroke-dasharray="3 1" stroke-dashoffset="0.0"/>
<line x1="773.5" y1="346.0" x2="773.5" y2="355.4" stroke-width="1.0" stroke-dasharray="2 1" stroke-dashoffset="0.0"/>
<line x1="775.0" y1="346.0" x2="775.0" y2="355.4" stroke-width="2.0" stroke-dasharray="2 2" stroke-dashoffset="2.0"/>
<line x1="776.5" y1="346.0" x2="776.5" y2="355.4" stroke-width="1.0" stroke-dasharray="3 2" stroke-dashoffset="1.0"/>
<line x1="786.0" y1="346.0" x2="786.0" y2="355.4" stroke-width="2.0" stroke-dasharray="3 2" stroke-dashoffset="2.0"/>
<line x1="788.5" y1="346.0" x2="788.5" y2="355.4" stroke-width="1.0" stroke-dasharray="3 1" stroke-dashoffset="0.0"/>
<line x1="793.5" y1="346.0" x2="793.5" y2="355.4" stroke-width="1.0" stroke-dasharray="3 1" stroke-dashoffset="0.0"/>
<line x1="797.0" y1="346.0" x2="797.0" y2="355.4" stroke-width="2.0" stroke-dasharray="2 2" stroke-dashoffset="2.0"/>
<line x1="801.5" y1="346.0" x2="801.5" y2="355.4" stroke-width="1.0" stroke-dasharray="3 1" stroke-dashoffset="0.0"/>
<line x1="806.5" y1="346.0" x2="806.5" y2="355.4" stroke-width="1.0" stroke-dasharray="2 2" stroke-dashoffset="0.0"/>
<line x1="815.5" y1="346.0" x2="815.5" y2="355.4" stroke-width="1.0" stroke-dasharray="3 2" stroke-dashoffset="3.0"/>
<line x1="821.5" y1="346.0" x2="821.5" y2="355.4" stroke-width="1.0" stroke-dasharray="2 1" stroke-dashoffset="2.0"/>
<line x1="822.5" y1="346.0" x2="822.5" y2="355.4" stroke-width="1.0" stroke-dasharray="2 1" stroke-dashoffset="0.0"/>
<line x1="826.0" y1="346.0" x2="826.0" y2="355.4" stroke-width="2.0" stroke-dasharray="2 2" stroke-dashoffset="1.0"/>
<line x1="828.0" y1="346.0" x2="828.0" y2="355.4" stroke-width="2.0" stroke-dasharray="3 2" stroke-dashoffset="3.0"/>
<line x1="829.5" y1="346.0" x2="829.5" y2="355.4" stroke-width="1.0" stroke-dasharray="3 2" stroke-dashoffset="3.0"/>
<line x1="835.0" y1="346.0" x2="835.0" y2="355.4" stroke-width="2.0" stroke-dasharray="3 2" stroke-dashoffset="0.0"/>
<line x1="837.5" y1="346.0" x2="837.5" y2="355.4" stroke-width="1.0" stroke-dasharray="3 1" stroke-dashoffset="0.0"/>
<line x1="847.0" y1="346.0" x2="847.0" y2="355.4" stroke-width="2.0" stroke-dasharray="3 2" stroke-dashoffset="0.0"/>
<line x1="848.5" y1="346.0" x2="848.5" y2="355.4" stroke-width="1.0" stroke-dasharray="2 2" stroke-dashoffset="3.0"/>
<line x1="856.0" y1="346.0" x2="856.0" y2="355.4" stroke-width="2.0" stroke-dasharray="2 2" stroke-dashoffset="1.0"/>
<line x1="857.5" y1="346.0" x2="857.5" y2="355.4" stroke-width="1.0" stroke-dasharray="3 1" stroke-dashoffset="0.0"/>
<line x1="862.5" y1="346.0" x2="862.5" y2="355.4" stroke-width="1.0" stroke-dasharray="3 2" stroke-dashoffset="2.0"/>
<line x1="866.0" y1="346.0" x2="866.0" y2="355.4" stroke-width="2.0" stroke-dasharray="2 1" stroke-dashoffset="3.0"/>
<line x1="867.5" y1="346.0" x2="867.5" y2="355.4" stroke-width="1.0" stroke-dasharray="3 2" stroke-dashoffset="0.0"/>
<line x1="872.0" y1="346.0" x2="872.0" y2="355.4" stroke-width="2.0" stroke-dasharray="3 1" stroke-dashoffset="3.0"/>
<line x1="881.0" y1="346.0" x2="881.0" y2="355.4" stroke-width="2.0" stroke-dasharray="2 1" stroke-dashoffset="1.0"/>
<line x1="884.5" y1="346.0" x2="884.5" y2="355.4" stroke-width="1.0" stroke-dasharray="2 1" stroke-dashoffset="3.0"/>
<line x1="885.5" y1="346.0" x2="885.5" y2="355.4" stroke-width="1.0" stroke-dasharray="2 1" stroke-dashoffset="1.0"/>
<line x1="893.0" y1="346.0" x2="893.0" y2="355.4" stroke-width="2.0" stroke-dasharray="2 1" stroke-dashoffset="0.0"/>
<line x1="896.0" y1="346.0" x2="896.0" y2="355.4" stroke-width="2.0" stroke-dasharray="3 1" stroke-dashoffset="3.0"/>
<line x1="897.5" y1="346.0" x2="897.5" y2="355.4" stroke-width="1.0" stroke-dasharray="2 1" stroke-dashoffset="3.0"/>
<line x1="899.0" y1="346.0" x2="899.0" y2="355.4" stroke-width="2.0" stroke-dasharray="2 1" stroke-dashoffset="3.0"/>
<line x1="900.5" y1="346.0" x2="900.5" y2="355.4" stroke-width="1.0" stroke-dasharray="2 1" stroke-dashoffset="3.0"/>
<line x1="902.0" y1="346.0" x2="902.0" y2="355.4" stroke-width="2.0" stroke-dasharray="2 1" stroke-dashoffset="2.0"/>
<line x1="903.5" y1="346.0" x2="903.5" y2="355.4" stroke-width="1.0" stroke-dasharray="3 1" stroke-dashoffset="2.0"/>
<line x1="904.5" y1="346.0" x2="904.5" y2="355.4" stroke-width="1.0" stroke-dasharray="3 2" stroke-dashoffset="0.0"/>
<line x1="905.5" y1="346.0" x2="905.5" y2="355.4" stroke-width="1.0" stroke-dasharray="3 1" stroke-dashoffset="2.0"/>
<line x1="907.0" y1="346.0" x2="907.0" y2="355.4" stroke-width="2.0" stroke-dasharray="2 2" stroke-dashoffset="3.0"/>
<line x1="909.5" y1="346.0" x2="909.5" y2="355.4" stroke-width="1.0" stroke-dasharray="2 2" stroke-dashoffset="1.0"/>
<line x1="911.5" y1="346.0" x2="911.5" y2="355.4" stroke-width="1.0" stroke-dasharray="2 1" stroke-dashoffset="0.0"/>
<line x1="916.0" y1="346.0" x2="916.0" y2="355.4" stroke-width="2.0" stroke-dasharray="2 1" stroke-dashoffset="3.0"/>
<line x1="921.0" y1="346.0" x2="921.0" y2="355.4" stroke-width="2.0" stroke-dasharray="2 2" stroke-dashoffset="0.0"/>
<line x1="922.5" y1="346.0" x2="922.5" y2="355.4" stroke-width="1.0" stroke-dasharray="3 2" stroke-dashoffset="0.0"/>
<line x1="929.0" y1="346.0" x2="929.0" y2="355.4" stroke-width="2.0" stroke-dasharray="3 2" stroke-dashoffset="3.0"/>
<line x1="934.0" y1="346.0" x2="934.0" y2="355.4" stroke-width="2.0" stroke-dasharray="2 2" stroke-dashoffset="2.0"/>
<line x1="944.5" y1="346.0" x2="944.5" y2="355.4" stroke-width="1.0" stroke-dasharray="3 2" stroke-dashoffset="0.0"/>
<line x1="947.5" y1="346.0" x2="947.5" y2="355.4" stroke-width="1.0" stroke-dasharray="3 1" stroke-dashoffset="1.0"/>
<line x1="952.0" y1="346.0" x2="952.0" y2="355.4" stroke-width="2.0" stroke-dasharray="3 1" stroke-dashoffset="2.0"/>
<line x1="954.5" y1="346.0" x2="954.5" y2="355.4" stroke-width="1.0" stroke-dasharray="2 2" stroke-dashoffset="1.0"/>
<line x1="955.5" y1="346.0" x2="955.5" y2="355.4" stroke-width="1.0" stroke-dasharray="3 2" stroke-dashoffset="3.0"/>
</g>
<g stroke="#c8043d">
<line x1="165.5" y1="205.0" x2="165.5" y2="291.5" stroke-width="2.8"/>
<line x1="165.5" y1="161.7" x2="165.5" y2="205.0" stroke-width="1.5" stroke-dasharray="2.7 1.2" stroke-dashoffset="0.0"/>
<line x1="189.5" y1="264.8" x2="189.5" y2="291.5" stroke-width="1.6" stroke-dasharray="2.7 1.2" stroke-dashoffset="0.0"/>
<line x1="200.5" y1="272.5" x2="200.5" y2="291.5" stroke-width="1.6" stroke-dasharray="2.7 1.2" stroke-dashoffset="0.0"/>
<line x1="213.5" y1="272.5" x2="213.5" y2="291.5" stroke-width="1.6" stroke-dasharray="2.7 1.2" stroke-dashoffset="0.0"/>
<line x1="231.5" y1="253.3" x2="231.5" y2="291.5" stroke-width="1.6" stroke-dasharray="2.7 1.2" stroke-dashoffset="0.0"/>
<line x1="236.5" y1="273.0" x2="236.5" y2="291.5" stroke-width="1.6" stroke-dasharray="2.7 1.2" stroke-dashoffset="0.0"/>
<line x1="247.5" y1="262.9" x2="247.5" y2="291.5" stroke-width="1.6"/>
<line x1="261.5" y1="271.0" x2="261.5" y2="291.5" stroke-width="1.6" stroke-dasharray="2.7 1.2" stroke-dashoffset="0.0"/>
<line x1="265.5" y1="262.9" x2="265.5" y2="291.5" stroke-width="1.6"/>
<line x1="271.5" y1="264.0" x2="271.5" y2="291.5" stroke-width="1.6" stroke-dasharray="2.7 1.2" stroke-dashoffset="0.0"/>
<line x1="299.5" y1="262.9" x2="299.5" y2="291.5" stroke-width="1.6" stroke-dasharray="2.7 1.2" stroke-dashoffset="0.0"/>
<line x1="317.5" y1="271.6" x2="317.5" y2="291.5" stroke-width="1.6" stroke-dasharray="2.7 1.2" stroke-dashoffset="0.0"/>
<line x1="322.5" y1="271.6" x2="322.5" y2="291.5" stroke-width="1.6" stroke-dasharray="2.7 1.2" stroke-dashoffset="0.0"/>
<line x1="336.5" y1="272.5" x2="336.5" y2="291.5" stroke-width="1.6" stroke-dasharray="2.7 1.2" stroke-dashoffset="0.0"/>
<line x1="344.5" y1="265.0" x2="344.5" y2="291.5" stroke-width="1.6" stroke-dasharray="2.7 1.2" stroke-dashoffset="0.0"/>
<line x1="348.0" y1="262.9" x2="348.0" y2="291.5" stroke-width="2.4"/>
<line x1="363.5" y1="264.8" x2="363.5" y2="291.5" stroke-width="1.6" stroke-dasharray="2.7 1.2" stroke-dashoffset="0.0"/>
<line x1="367.5" y1="273.0" x2="367.5" y2="291.5" stroke-width="1.6" stroke-dasharray="2.7 1.2" stroke-dashoffset="0.0"/>
<line x1="392.5" y1="271.6" x2="392.5" y2="291.5" stroke-width="1.6" stroke-dasharray="2.7 1.2" stroke-dashoffset="0.0"/>
<line x1="396.5" y1="268.0" x2="396.5" y2="291.5" stroke-width="2.2"/>
<line x1="396.5" y1="253.9" x2="396.5" y2="268.0" stroke-width="1.6" stroke-dasharray="2.7 1.2" stroke-dashoffset="0.0"/>
<line x1="418.0" y1="262.9" x2="418.0" y2="291.5" stroke-width="2.6"/>
<line x1="439.5" y1="272.0" x2="439.5" y2="291.5" stroke-width="2.2"/>
<line x1="439.5" y1="264.3" x2="439.5" y2="272.0" stroke-width="1.6" stroke-dasharray="2.7 1.2" stroke-dashoffset="0.0"/>
<line x1="450.5" y1="271.6" x2="450.5" y2="291.5" stroke-width="1.6" stroke-dasharray="2.7 1.2" stroke-dashoffset="0.0"/>
<line x1="470.5" y1="264.8" x2="470.5" y2="291.5" stroke-width="1.6" stroke-dasharray="2.7 1.2" stroke-dashoffset="0.0"/>
<line x1="487.5" y1="262.9" x2="487.5" y2="291.5" stroke-width="1.6"/>
<line x1="496.5" y1="263.4" x2="496.5" y2="291.5" stroke-width="1.6" stroke-dasharray="2.7 1.2" stroke-dashoffset="0.0"/>
<line x1="531.0" y1="271.6" x2="531.0" y2="291.5" stroke-width="2.4"/>
<line x1="543.5" y1="264.8" x2="543.5" y2="291.5" stroke-width="1.6" stroke-dasharray="2.7 1.2" stroke-dashoffset="0.0"/>
<line x1="552.5" y1="266.0" x2="552.5" y2="291.5" stroke-width="2.4"/>
<line x1="552.5" y1="216.4" x2="552.5" y2="266.0" stroke-width="1.6" stroke-dasharray="2.7 1.2" stroke-dashoffset="0.0"/>
<line x1="564.5" y1="271.6" x2="564.5" y2="291.5" stroke-width="1.6" stroke-dasharray="2.7 1.2" stroke-dashoffset="0.0"/>
<line x1="574.5" y1="273.0" x2="574.5" y2="291.5" stroke-width="1.6" stroke-dasharray="2.7 1.2" stroke-dashoffset="0.0"/>
<line x1="588.0" y1="262.0" x2="588.0" y2="291.5" stroke-width="3.2"/>
<line x1="588.0" y1="254.0" x2="588.0" y2="262.0" stroke-width="1.6" stroke-dasharray="2.7 1.2" stroke-dashoffset="0.0"/>
<line x1="621.5" y1="273.0" x2="621.5" y2="291.5" stroke-width="1.6" stroke-dasharray="2.7 1.2" stroke-dashoffset="0.0"/>
<line x1="638.0" y1="271.6" x2="638.0" y2="291.5" stroke-width="2.4"/>
<line x1="648.0" y1="263.0" x2="648.0" y2="291.5" stroke-width="3.0"/>
<line x1="648.0" y1="226.5" x2="648.0" y2="263.0" stroke-width="1.6" stroke-dasharray="2.7 1.2" stroke-dashoffset="0.0"/>
<line x1="660.5" y1="272.5" x2="660.5" y2="291.5" stroke-width="1.6" stroke-dasharray="2.7 1.2" stroke-dashoffset="0.0"/>
<line x1="666.5" y1="263.4" x2="666.5" y2="291.5" stroke-width="1.6"/>
<line x1="671.5" y1="263.4" x2="671.5" y2="291.5" stroke-width="1.6" stroke-dasharray="2.7 1.2" stroke-dashoffset="0.0"/>
<line x1="684.5" y1="263.5" x2="684.5" y2="291.5" stroke-width="1.6" stroke-dasharray="2.7 1.2" stroke-dashoffset="0.0"/>
<line x1="689.5" y1="273.0" x2="689.5" y2="291.5" stroke-width="1.6" stroke-dasharray="2.7 1.2" stroke-dashoffset="0.0"/>
<line x1="746.0" y1="263.0" x2="746.0" y2="291.5" stroke-width="3.0"/>
<line x1="769.5" y1="264.3" x2="769.5" y2="291.5" stroke-width="1.6" stroke-dasharray="2.7 1.2" stroke-dashoffset="0.0"/>
<line x1="772.5" y1="273.0" x2="772.5" y2="291.5" stroke-width="1.6" stroke-dasharray="2.7 1.2" stroke-dashoffset="0.0"/>
<line x1="796.5" y1="272.0" x2="796.5" y2="291.5" stroke-width="1.6" stroke-dasharray="2.7 1.2" stroke-dashoffset="0.0"/>
<line x1="813.5" y1="273.6" x2="813.5" y2="291.5" stroke-width="1.6" stroke-dasharray="2.7 1.2" stroke-dashoffset="0.0"/>
<line x1="824.5" y1="272.0" x2="824.5" y2="291.5" stroke-width="1.6" stroke-dasharray="2.7 1.2" stroke-dashoffset="0.0"/>
<line x1="831.5" y1="272.0" x2="831.5" y2="291.5" stroke-width="1.6" stroke-dasharray="2.7 1.2" stroke-dashoffset="0.0"/>
<line x1="844.5" y1="169.0" x2="844.5" y2="291.5" stroke-width="1.6" stroke-dasharray="2.7 1.2" stroke-dashoffset="0.0"/>
<line x1="850.5" y1="264.8" x2="850.5" y2="291.5" stroke-width="1.6" stroke-dasharray="2.7 1.2" stroke-dashoffset="0.0"/>
<line x1="857.5" y1="264.8" x2="857.5" y2="291.5" stroke-width="1.6" stroke-dasharray="2.7 1.2" stroke-dashoffset="0.0"/>
<line x1="865.5" y1="272.0" x2="865.5" y2="291.5" stroke-width="1.6" stroke-dasharray="2.7 1.2" stroke-dashoffset="0.0"/>
<line x1="894.0" y1="264.0" x2="894.0" y2="291.5" stroke-width="3.2"/>
<line x1="894.0" y1="255.3" x2="894.0" y2="264.0" stroke-width="1.6" stroke-dasharray="2.7 1.2" stroke-dashoffset="0.0"/>
<line x1="899.5" y1="272.0" x2="899.5" y2="291.5" stroke-width="1.6" stroke-dasharray="2.7 1.2" stroke-dashoffset="0.0"/>
<line x1="933.5" y1="272.0" x2="933.5" y2="291.5" stroke-width="2.4"/>
<line x1="933.5" y1="217.5" x2="933.5" y2="272.0" stroke-width="2.0" stroke-dasharray="2.7 1.2" stroke-dashoffset="0.0"/>
<line x1="939.5" y1="272.0" x2="939.5" y2="291.5" stroke-width="1.6" stroke-dasharray="2.7 1.2" stroke-dashoffset="0.0"/>
<line x1="145.5" y1="373.3" x2="145.5" y2="346.1" stroke-width="1.6" stroke-dasharray="2.7 1.2" stroke-dashoffset="0.0"/>
<line x1="161.5" y1="364.5" x2="161.5" y2="346.1" stroke-width="1.6" stroke-dasharray="2.7 1.2" stroke-dashoffset="0.0"/>
<line x1="165.5" y1="346.1" x2="165.5" y2="403.0" stroke-width="2.8"/>
<line x1="165.5" y1="449.3" x2="165.5" y2="403.0" stroke-width="2.2" stroke-dasharray="2.7 1.2" stroke-dashoffset="0.0"/>
<line x1="184.5" y1="363.7" x2="184.5" y2="346.1" stroke-width="1.6" stroke-dasharray="2.7 1.2" stroke-dashoffset="0.0"/>
<line x1="189.5" y1="364.5" x2="189.5" y2="346.1" stroke-width="1.6" stroke-dasharray="2.7 1.2" stroke-dashoffset="0.0"/>
<line x1="196.5" y1="364.5" x2="196.5" y2="346.1" stroke-width="1.6" stroke-dasharray="2.7 1.2" stroke-dashoffset="0.0"/>
<line x1="207.5" y1="364.5" x2="207.5" y2="346.1" stroke-width="1.6" stroke-dasharray="2.7 1.2" stroke-dashoffset="0.0"/>
<line x1="226.5" y1="364.5" x2="226.5" y2="346.1" stroke-width="1.6" stroke-dasharray="2.7 1.2" stroke-dashoffset="0.0"/>
<line x1="237.5" y1="364.5" x2="237.5" y2="346.1" stroke-width="1.6" stroke-dasharray="2.7 1.2" stroke-dashoffset="0.0"/>
<line x1="243.5" y1="364.5" x2="243.5" y2="346.1" stroke-width="1.6" stroke-dasharray="2.7 1.2" stroke-dashoffset="0.0"/>
<line x1="247.5" y1="346.1" x2="247.5" y2="374.0" stroke-width="2.2"/>
<line x1="256.5" y1="364.5" x2="256.5" y2="346.1" stroke-width="1.6" stroke-dasharray="2.7 1.2" stroke-dashoffset="0.0"/>
<line x1="264.5" y1="364.5" x2="264.5" y2="346.1" stroke-width="1.6" stroke-dasharray="2.7 1.2" stroke-dashoffset="0.0"/>
<line x1="278.5" y1="364.5" x2="278.5" y2="346.1" stroke-width="1.6" stroke-dasharray="2.7 1.2" stroke-dashoffset="0.0"/>
<line x1="286.5" y1="374.6" x2="286.5" y2="346.1" stroke-width="1.6" stroke-dasharray="2.7 1.2" stroke-dashoffset="0.0"/>
<line x1="292.5" y1="363.7" x2="292.5" y2="346.1" stroke-width="1.6" stroke-dasharray="2.7 1.2" stroke-dashoffset="0.0"/>
<line x1="299.5" y1="382.0" x2="299.5" y2="346.1" stroke-width="1.6" stroke-dasharray="2.7 1.2" stroke-dashoffset="0.0"/>
<line x1="304.5" y1="363.7" x2="304.5" y2="346.1" stroke-width="1.6" stroke-dasharray="2.7 1.2" stroke-dashoffset="0.0"/>
<line x1="315.5" y1="364.5" x2="315.5" y2="346.1" stroke-width="1.6" stroke-dasharray="2.7 1.2" stroke-dashoffset="0.0"/>
<line x1="332.5" y1="364.5" x2="332.5" y2="346.1" stroke-width="1.6" stroke-dasharray="2.7 1.2" stroke-dashoffset="0.0"/>
<line x1="342.5" y1="364.5" x2="342.5" y2="346.1" stroke-width="1.6" stroke-dasharray="2.7 1.2" stroke-dashoffset="0.0"/>
<line x1="346.5" y1="346.1" x2="346.5" y2="393.8" stroke-width="1.8"/>
<line x1="363.5" y1="374.0" x2="363.5" y2="346.1" stroke-width="1.6" stroke-dasharray="2.7 1.2" stroke-dashoffset="0.0"/>
<line x1="368.5" y1="373.0" x2="368.5" y2="346.1" stroke-width="1.6" stroke-dasharray="2.7 1.2" stroke-dashoffset="0.0"/>
<line x1="386.5" y1="374.0" x2="386.5" y2="346.1" stroke-width="1.6" stroke-dasharray="2.7 1.2" stroke-dashoffset="0.0"/>
<line x1="390.5" y1="374.6" x2="390.5" y2="346.1" stroke-width="1.6" stroke-dasharray="2.7 1.2" stroke-dashoffset="0.0"/>
<line x1="396.5" y1="382.0" x2="396.5" y2="346.1" stroke-width="1.6" stroke-dasharray="2.7 1.2" stroke-dashoffset="0.0"/>
<line x1="418.0" y1="346.1" x2="418.0" y2="383.7" stroke-width="2.8"/>
<line x1="439.5" y1="374.6" x2="439.5" y2="346.1" stroke-width="1.6" stroke-dasharray="2.7 1.2" stroke-dashoffset="0.0"/>
<line x1="449.5" y1="364.5" x2="449.5" y2="346.1" stroke-width="1.6" stroke-dasharray="2.7 1.2" stroke-dashoffset="0.0"/>
<line x1="463.5" y1="363.7" x2="463.5" y2="346.1" stroke-width="1.6" stroke-dasharray="2.7 1.2" stroke-dashoffset="0.0"/>
<line x1="470.5" y1="383.7" x2="470.5" y2="346.1" stroke-width="1.6" stroke-dasharray="2.7 1.2" stroke-dashoffset="0.0"/>
<line x1="478.5" y1="364.5" x2="478.5" y2="346.1" stroke-width="1.6" stroke-dasharray="2.7 1.2" stroke-dashoffset="0.0"/>
<line x1="487.5" y1="346.1" x2="487.5" y2="374.6" stroke-width="1.7"/>
<line x1="498.5" y1="374.0" x2="498.5" y2="346.1" stroke-width="2.0" stroke-dasharray="2.7 1.2" stroke-dashoffset="0.0"/>
<line x1="502.5" y1="363.7" x2="502.5" y2="346.1" stroke-width="1.6" stroke-dasharray="2.7 1.2" stroke-dashoffset="0.0"/>
<line x1="549.5" y1="346.1" x2="549.5" y2="364.5" stroke-width="2.2"/>
<line x1="552.5" y1="420.6" x2="552.5" y2="346.1" stroke-width="1.6" stroke-dasharray="2.7 1.2" stroke-dashoffset="0.0"/>
<line x1="557.5" y1="364.5" x2="557.5" y2="346.1" stroke-width="1.6" stroke-dasharray="2.7 1.2" stroke-dashoffset="0.0"/>
<line x1="588.0" y1="346.1" x2="588.0" y2="374.6" stroke-width="2.6"/>
<line x1="608.5" y1="364.5" x2="608.5" y2="346.1" stroke-width="1.6" stroke-dasharray="2.7 1.2" stroke-dashoffset="0.0"/>
<line x1="621.5" y1="364.5" x2="621.5" y2="346.1" stroke-width="1.6" stroke-dasharray="2.7 1.2" stroke-dashoffset="0.0"/>
<line x1="638.5" y1="346.1" x2="638.5" y2="364.5" stroke-width="2.2"/>
<line x1="648.5" y1="346.1" x2="648.5" y2="376.0" stroke-width="2.4"/>
<line x1="648.5" y1="393.8" x2="648.5" y2="376.0" stroke-width="1.6" stroke-dasharray="2.7 1.2" stroke-dashoffset="0.0"/>
<line x1="652.5" y1="374.0" x2="652.5" y2="346.1" stroke-width="1.6" stroke-dasharray="2.7 1.2" stroke-dashoffset="0.0"/>
<line x1="660.5" y1="346.1" x2="660.5" y2="374.6" stroke-width="1.7"/>
<line x1="679.5" y1="363.7" x2="679.5" y2="346.1" stroke-width="1.6" stroke-dasharray="2.7 1.2" stroke-dashoffset="0.0"/>
<line x1="724.5" y1="364.5" x2="724.5" y2="346.1" stroke-width="1.6" stroke-dasharray="2.7 1.2" stroke-dashoffset="0.0"/>
<line x1="748.0" y1="346.1" x2="748.0" y2="375.0" stroke-width="3.6"/>
<line x1="748.0" y1="382.0" x2="748.0" y2="375.0" stroke-width="1.6" stroke-dasharray="2.7 1.2" stroke-dashoffset="0.0"/>
<line x1="796.5" y1="363.7" x2="796.5" y2="346.1" stroke-width="1.6" stroke-dasharray="2.7 1.2" stroke-dashoffset="0.0"/>
<line x1="803.5" y1="363.7" x2="803.5" y2="346.1" stroke-width="1.6" stroke-dasharray="2.7 1.2" stroke-dashoffset="0.0"/>
<line x1="812.0" y1="346.1" x2="812.0" y2="374.0" stroke-width="2.4"/>
<line x1="818.5" y1="364.5" x2="818.5" y2="346.1" stroke-width="1.6" stroke-dasharray="2.7 1.2" stroke-dashoffset="0.0"/>
<line x1="844.5" y1="476.6" x2="844.5" y2="346.1" stroke-width="1.7" stroke-dasharray="2.7 1.2" stroke-dashoffset="0.0"/>
<line x1="850.5" y1="363.7" x2="850.5" y2="346.1" stroke-width="1.6" stroke-dasharray="2.7 1.2" stroke-dashoffset="0.0"/>
<line x1="865.5" y1="364.5" x2="865.5" y2="346.1" stroke-width="1.6" stroke-dasharray="2.7 1.2" stroke-dashoffset="0.0"/>
<line x1="894.0" y1="346.1" x2="894.0" y2="383.7" stroke-width="2.8"/>
<line x1="913.5" y1="373.3" x2="913.5" y2="346.1" stroke-width="1.6" stroke-dasharray="2.7 1.2" stroke-dashoffset="0.0"/>
<line x1="917.5" y1="382.0" x2="917.5" y2="346.1" stroke-width="1.6" stroke-dasharray="2.7 1.2" stroke-dashoffset="0.0"/>
<line x1="934.0" y1="346.1" x2="934.0" y2="375.0" stroke-width="3.6"/>
<line x1="934.0" y1="421.0" x2="934.0" y2="375.0" stroke-width="1.6" stroke-dasharray="2.7 1.2" stroke-dashoffset="0.0"/>
</g>
</g>
<rect x="141.6" y="290.5" width="814.0" height="56.6" fill="#e2003b"/>
<rect x="133.6" y="60.9" width="829.6" height="415.8" stroke="#0e0e0e" stroke-width="1.9" fill="none"/>
<g id="labels">
<text class="tk" transform="translate(0 131.1) scale(1.060 1)" x="74.25 91.51 100.00" y="0">0.2</text>
<text class="tk" transform="translate(0 230.9) scale(1.060 1)" x="74.25 91.51 101.00" y="0">0.1</text>
<text class="tk" transform="translate(0 329.8) scale(1.060 1)" x="74.25 91.51 99.72" y="0">0.0</text>
<text class="tk" transform="translate(0 429.4) scale(1.060 1)" x="64.52 74.53 91.51 101.00" y="0">-0.1</text>
<text class="tk" transform="translate(0 514.7) scale(1.060 1)" x="335.19 352.98 369.77 378.26 395.10" y="0">21:00</text>
<text class="tk" transform="translate(0 514.7) scale(1.060 1)" x="621.84 639.11 656.70 665.52 682.60" y="0">00:00</text>
<text id="xt" class="ttl" x="453.56" y="580.4" textLength="190.66" lengthAdjust="spacingAndGlyphs">Time /hh:mm</text>
<text id="yt" class="ttl" transform="translate(32.2 408.40) rotate(-90)" x="0" y="0" textLength="279.73" lengthAdjust="spacingAndGlyphs">Grating pitch /µrad</text>
<text id="a1" class="an" x="190.09" y="115.3" textLength="401.65" lengthAdjust="spacingAndGlyphs">Bestec P480: PGM NSRL USTC</text>
<text id="a2" class="an" x="190.40" y="150.4" textLength="439.06" lengthAdjust="spacingAndGlyphs">1 encoder count = 0.0097087 µrad</text>
<text id="a3" class="anb" x="190.64" y="185.4" textLength="516.88" lengthAdjust="spacingAndGlyphs">Grating pitch stability (1σ) = 0.01 µrad</text>
</g>
<g id="serif-trim" fill="#ffffff">
<rect x="108.78" y="226.97" width="6.60" height="4.93"/>
<rect x="118.30" y="226.97" width="6.33" height="4.93"/>
<rect x="108.78" y="425.47" width="6.60" height="4.93"/>
<rect x="118.30" y="425.47" width="6.33" height="4.93"/>
<rect x="375.88" y="510.77" width="6.60" height="4.93"/>
<rect x="385.40" y="510.77" width="6.33" height="4.93"/>
<rect x="191.80" y="146.77" width="5.80" height="4.63"/>
<rect x="200.13" y="146.77" width="5.56" height="4.63"/>
<rect x="496.66" y="181.59" width="6.19" height="4.98"/>
<rect x="505.92" y="181.59" width="5.94" height="4.98"/>
<rect x="620.94" y="181.59" width="6.20" height="4.98"/>
<rect x="630.21" y="181.59" width="5.94" height="4.98"/>
</g>
</svg>
</body>
</html>
